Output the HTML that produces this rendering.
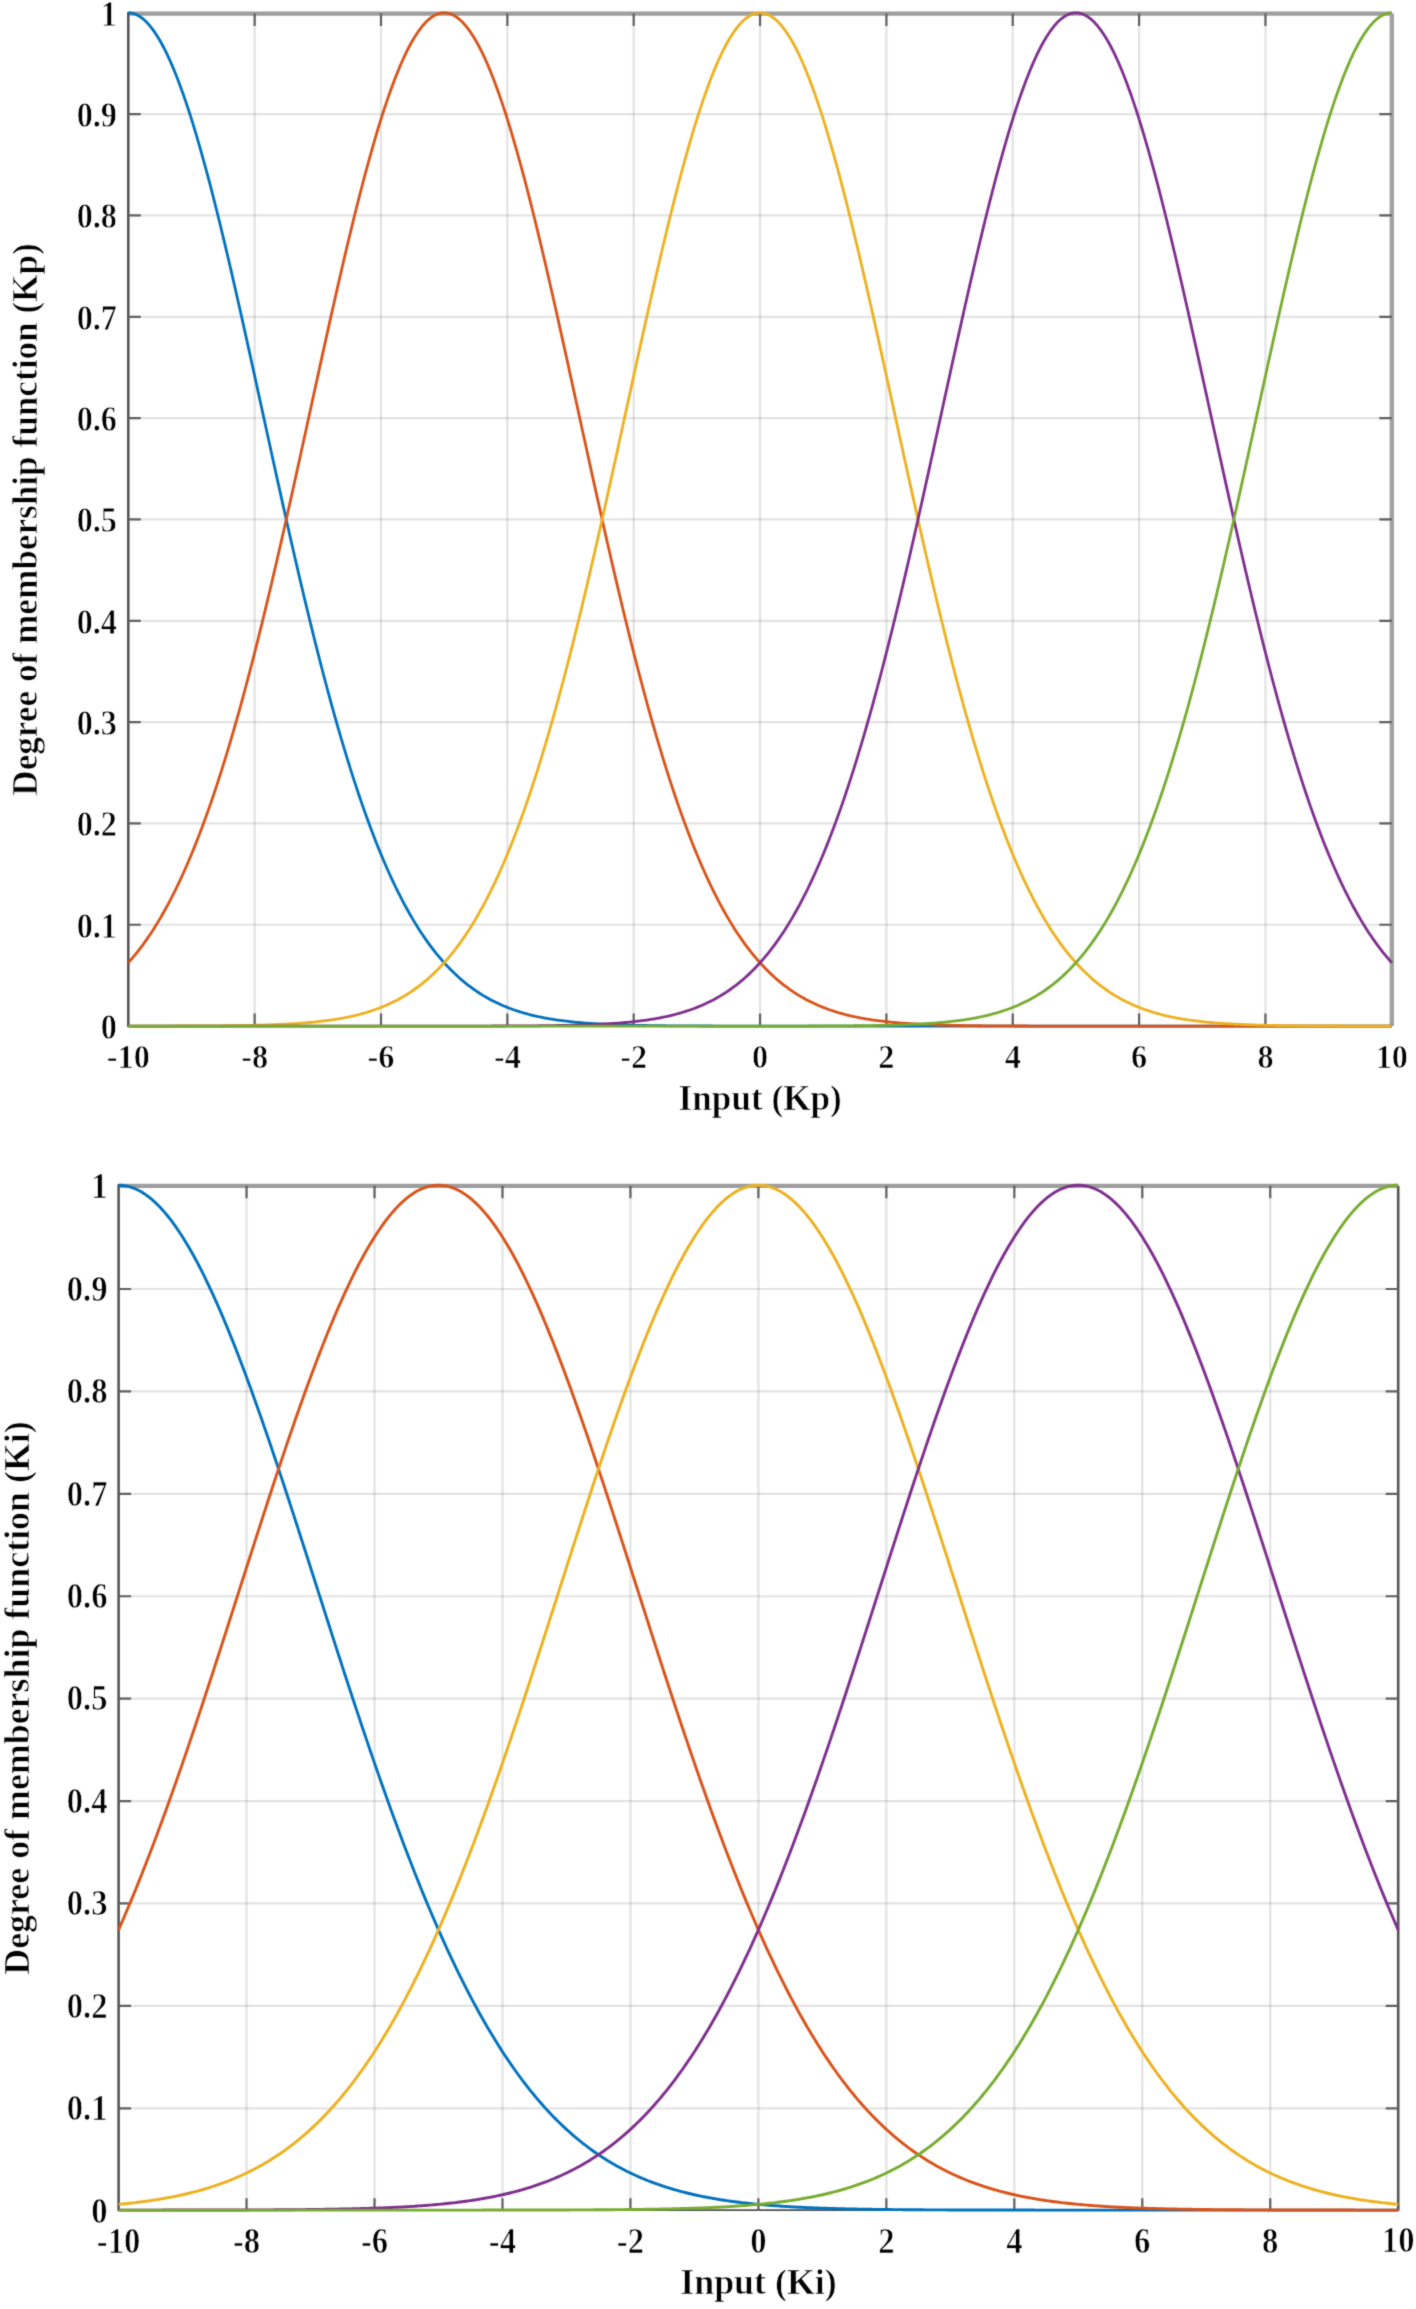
<!DOCTYPE html>
<html><head><meta charset="utf-8"><style>html,body{margin:0;padding:0;background:#fff;}svg{display:block}.t{stroke:#fff;stroke-width:0.7;paint-order:normal}</style></head>
<body><svg width="1416" height="2309" viewBox="0 0 1416 2309" font-family="'Liberation Serif', serif" font-weight="bold" fill="#000">
<defs><filter id="bl" x="0" y="0" width="1416" height="2309" filterUnits="userSpaceOnUse" color-interpolation-filters="sRGB"><feConvolveMatrix order="3" kernelMatrix="0.01917 0.10012 0.01917 0.10012 0.52283 0.10012 0.01917 0.10012 0.01917" divisor="1" edgeMode="duplicate"/></filter></defs>
<rect width="1416" height="2309" fill="#fff"/>
<g filter="url(#bl)"><rect width="1416" height="2309" fill="#fff"/>
<path d="M254.65 12.80V1026.10M381.00 12.80V1026.10M507.35 12.80V1026.10M633.70 12.80V1026.10M760.05 12.80V1026.10M886.40 12.80V1026.10M1012.75 12.80V1026.10M1139.10 12.80V1026.10M1265.45 12.80V1026.10" stroke="#000" stroke-opacity="0.11" stroke-width="2.2" fill="none"/>
<path d="M128.30 924.77H1391.80M128.30 823.44H1391.80M128.30 722.11H1391.80M128.30 620.78H1391.80M128.30 519.45H1391.80M128.30 418.12H1391.80M128.30 316.79H1391.80M128.30 215.46H1391.80M128.30 114.13H1391.80" stroke="#000" stroke-opacity="0.11" stroke-width="2.2" fill="none"/>
<path d="M128.30 13.60H1391.80" stroke="#9e9e9e" stroke-width="4.2" fill="none"/>
<path d="M1391.80 13.60V1026.10" stroke="#a2a2a2" stroke-width="4.4" fill="none"/>
<path d="M128.30 12.10V1027.10" stroke="#505050" stroke-width="2.5" fill="none"/>
<path d="M128.30 1026.10H1391.80" stroke="#505050" stroke-width="1.6" fill="none"/>
<path d="M254.65 1026.10v-12.5M254.65 13.60v12.5M381.00 1026.10v-12.5M381.00 13.60v12.5M507.35 1026.10v-12.5M507.35 13.60v12.5M633.70 1026.10v-12.5M633.70 13.60v12.5M760.05 1026.10v-12.5M760.05 13.60v12.5M886.40 1026.10v-12.5M886.40 13.60v12.5M1012.75 1026.10v-12.5M1012.75 13.60v12.5M1139.10 1026.10v-12.5M1139.10 13.60v12.5M1265.45 1026.10v-12.5M1265.45 13.60v12.5M128.30 924.77h12.5M1391.80 924.77h-12.5M128.30 823.44h12.5M1391.80 823.44h-12.5M128.30 722.11h12.5M1391.80 722.11h-12.5M128.30 620.78h12.5M1391.80 620.78h-12.5M128.30 519.45h12.5M1391.80 519.45h-12.5M128.30 418.12h12.5M1391.80 418.12h-12.5M128.30 316.79h12.5M1391.80 316.79h-12.5M128.30 215.46h12.5M1391.80 215.46h-12.5M128.30 114.13h12.5M1391.80 114.13h-12.5" stroke="#606060" stroke-width="2.2" fill="none"/>
<polyline points="128.30,12.80 130.41,12.92 132.51,13.30 134.62,13.92 136.72,14.80 138.83,15.92 140.93,17.29 143.04,18.90 145.15,20.76 147.25,22.86 149.36,25.21 151.46,27.80 153.57,30.62 155.68,33.68 157.78,36.98 159.89,40.51 161.99,44.27 164.10,48.25 166.20,52.46 168.31,56.89 170.42,61.54 172.52,66.40 174.63,71.47 176.73,76.75 178.84,82.23 180.95,87.91 183.05,93.79 185.16,99.86 187.26,106.11 189.37,112.55 191.48,119.17 193.58,125.96 195.69,132.92 197.79,140.05 199.90,147.33 202.00,154.77 204.11,162.36 206.22,170.10 208.32,177.97 210.43,185.98 212.53,194.12 214.64,202.39 216.75,210.77 218.85,219.26 220.96,227.87 223.06,236.57 225.17,245.38 227.27,254.27 229.38,263.26 231.49,272.32 233.59,281.46 235.70,290.67 237.80,299.94 239.91,309.28 242.02,318.67 244.12,328.11 246.23,337.59 248.33,347.11 250.44,356.66 252.54,366.25 254.65,375.85 256.76,385.48 258.86,395.11 260.97,404.76 263.07,414.41 265.18,424.05 267.29,433.69 269.39,443.32 271.50,452.94 273.60,462.53 275.71,472.10 277.81,481.65 279.92,491.16 282.03,500.63 284.13,510.06 286.24,519.45 288.34,528.79 290.45,538.08 292.55,547.31 294.66,556.49 296.77,565.60 298.87,574.64 300.98,583.62 303.08,592.53 305.19,601.36 307.30,610.11 309.40,618.78 311.51,627.38 313.61,635.88 315.72,644.30 317.83,652.63 319.93,660.87 322.04,669.01 324.14,677.06 326.25,685.01 328.35,692.86 330.46,700.62 332.57,708.26 334.67,715.81 336.78,723.25 338.88,730.59 340.99,737.82 343.10,744.94 345.20,751.95 347.31,758.86 349.41,765.65 351.52,772.34 353.62,778.91 355.73,785.37 357.84,791.73 359.94,797.97 362.05,804.10 364.15,810.11 366.26,816.02 368.37,821.81 370.47,827.50 372.58,833.07 374.68,838.54 376.79,843.89 378.89,849.13 381.00,854.27 383.11,859.30 385.21,864.22 387.32,869.03 389.42,873.74 391.53,878.34 393.64,882.84 395.74,887.24 397.85,891.54 399.95,895.73 402.06,899.83 404.16,903.82 406.27,907.72 408.38,911.53 410.48,915.23 412.59,918.85 414.69,922.37 416.80,925.80 418.90,929.14 421.01,932.40 423.12,935.57 425.22,938.65 427.33,941.64 429.43,944.56 431.54,947.39 433.65,950.15 435.75,952.82 437.86,955.42 439.96,957.94 442.07,960.39 444.18,962.77 446.28,965.07 448.39,967.31 450.49,969.48 452.60,971.58 454.70,973.62 456.81,975.59 458.92,977.50 461.02,979.35 463.13,981.14 465.23,982.88 467.34,984.55 469.45,986.17 471.55,987.74 473.66,989.26 475.76,990.72 477.87,992.13 479.97,993.50 482.08,994.82 484.19,996.09 486.29,997.32 488.40,998.50 490.50,999.65 492.61,1000.75 494.71,1001.81 496.82,1002.83 498.93,1003.81 501.03,1004.76 503.14,1005.68 505.24,1006.56 507.35,1007.40 509.46,1008.22 511.56,1009.00 513.67,1009.75 515.77,1010.47 517.88,1011.17 519.99,1011.83 522.09,1012.48 524.20,1013.09 526.30,1013.68 528.41,1014.25 530.51,1014.79 532.62,1015.31 534.73,1015.81 536.83,1016.29 538.94,1016.75 541.04,1017.19 543.15,1017.61 545.25,1018.02 547.36,1018.40 549.47,1018.77 551.57,1019.12 553.68,1019.46 555.78,1019.78 557.89,1020.09 560.00,1020.39 562.10,1020.67 564.21,1020.94 566.31,1021.20 568.42,1021.44 570.52,1021.68 572.63,1021.90 574.74,1022.11 576.84,1022.32 578.95,1022.51 581.05,1022.70 583.16,1022.87 585.27,1023.04 587.37,1023.20 589.48,1023.35 591.58,1023.50 593.69,1023.63 595.80,1023.77 597.90,1023.89 600.01,1024.01 602.11,1024.12 604.22,1024.23 606.32,1024.33 608.43,1024.43 610.54,1024.52 612.64,1024.60 614.75,1024.69 616.85,1024.77 618.96,1024.84 621.07,1024.91 623.17,1024.98 625.28,1025.04 627.38,1025.10 629.49,1025.16 631.59,1025.21 633.70,1025.26 635.81,1025.31 637.91,1025.36 640.02,1025.40 642.12,1025.44 644.23,1025.48 646.34,1025.52 648.44,1025.55 650.55,1025.58 652.65,1025.61 654.76,1025.64 656.86,1025.67 658.97,1025.70 661.08,1025.72 663.18,1025.74 665.29,1025.76 667.39,1025.78 669.50,1025.80 671.61,1025.82 673.71,1025.84 675.82,1025.86 677.92,1025.87 680.03,1025.89 682.13,1025.90 684.24,1025.91 686.35,1025.92 688.45,1025.93 690.56,1025.94 692.66,1025.95 694.77,1025.96 696.88,1025.97 698.98,1025.98 701.09,1025.99 703.19,1026.00 705.30,1026.00 707.40,1026.01 709.51,1026.02 711.62,1026.02 713.72,1026.03 715.83,1026.03 717.93,1026.04 720.04,1026.04 722.14,1026.04 724.25,1026.05 726.36,1026.05 728.46,1026.05 730.57,1026.06 732.67,1026.06 734.78,1026.06 736.89,1026.07 738.99,1026.07 741.10,1026.07 743.20,1026.07 745.31,1026.07 747.41,1026.08 749.52,1026.08 751.63,1026.08 753.73,1026.08 755.84,1026.08 757.94,1026.08 760.05,1026.08 762.16,1026.09 764.26,1026.09 766.37,1026.09 768.47,1026.09 770.58,1026.09 772.68,1026.09 774.79,1026.09 776.90,1026.09 779.00,1026.09 781.11,1026.09 783.21,1026.09 785.32,1026.09 787.43,1026.09 789.53,1026.09 791.64,1026.10 793.74,1026.10 795.85,1026.10 797.96,1026.10 800.06,1026.10 802.17,1026.10 804.27,1026.10 806.38,1026.10 808.48,1026.10 810.59,1026.10 812.70,1026.10 814.80,1026.10 816.91,1026.10 819.01,1026.10 821.12,1026.10 823.23,1026.10 825.33,1026.10 827.44,1026.10 829.54,1026.10 831.65,1026.10 833.75,1026.10 835.86,1026.10 837.97,1026.10 840.07,1026.10 842.18,1026.10 844.28,1026.10 846.39,1026.10 848.50,1026.10 850.60,1026.10 852.71,1026.10 854.81,1026.10 856.92,1026.10 859.02,1026.10 861.13,1026.10 863.24,1026.10 865.34,1026.10 867.45,1026.10 869.55,1026.10 871.66,1026.10 873.77,1026.10 875.87,1026.10 877.98,1026.10 880.08,1026.10 882.19,1026.10 884.29,1026.10 886.40,1026.10 888.51,1026.10 890.61,1026.10 892.72,1026.10 894.82,1026.10 896.93,1026.10 899.04,1026.10 901.14,1026.10 903.25,1026.10 905.35,1026.10 907.46,1026.10 909.56,1026.10 911.67,1026.10 913.78,1026.10 915.88,1026.10 917.99,1026.10 920.09,1026.10 922.20,1026.10 924.31,1026.10 926.41,1026.10 928.52,1026.10 930.62,1026.10 932.73,1026.10 934.83,1026.10 936.94,1026.10 939.05,1026.10 941.15,1026.10 943.26,1026.10 945.36,1026.10 947.47,1026.10 949.58,1026.10 951.68,1026.10 953.79,1026.10 955.89,1026.10 958.00,1026.10 960.10,1026.10 962.21,1026.10 964.32,1026.10 966.42,1026.10 968.53,1026.10 970.63,1026.10 972.74,1026.10 974.85,1026.10 976.95,1026.10 979.06,1026.10 981.16,1026.10 983.27,1026.10 985.37,1026.10 987.48,1026.10 989.59,1026.10 991.69,1026.10 993.80,1026.10 995.90,1026.10 998.01,1026.10 1000.12,1026.10 1002.22,1026.10 1004.33,1026.10 1006.43,1026.10 1008.54,1026.10 1010.64,1026.10 1012.75,1026.10 1014.86,1026.10 1016.96,1026.10 1019.07,1026.10 1021.17,1026.10 1023.28,1026.10 1025.38,1026.10 1027.49,1026.10 1029.60,1026.10 1031.70,1026.10 1033.81,1026.10 1035.91,1026.10 1038.02,1026.10 1040.13,1026.10 1042.23,1026.10 1044.34,1026.10 1046.44,1026.10 1048.55,1026.10 1050.65,1026.10 1052.76,1026.10 1054.87,1026.10 1056.97,1026.10 1059.08,1026.10 1061.18,1026.10 1063.29,1026.10 1065.40,1026.10 1067.50,1026.10 1069.61,1026.10 1071.71,1026.10 1073.82,1026.10 1075.92,1026.10 1078.03,1026.10 1080.14,1026.10 1082.24,1026.10 1084.35,1026.10 1086.45,1026.10 1088.56,1026.10 1090.67,1026.10 1092.77,1026.10 1094.88,1026.10 1096.98,1026.10 1099.09,1026.10 1101.19,1026.10 1103.30,1026.10 1105.41,1026.10 1107.51,1026.10 1109.62,1026.10 1111.72,1026.10 1113.83,1026.10 1115.94,1026.10 1118.04,1026.10 1120.15,1026.10 1122.25,1026.10 1124.36,1026.10 1126.47,1026.10 1128.57,1026.10 1130.68,1026.10 1132.78,1026.10 1134.89,1026.10 1136.99,1026.10 1139.10,1026.10 1141.21,1026.10 1143.31,1026.10 1145.42,1026.10 1147.52,1026.10 1149.63,1026.10 1151.73,1026.10 1153.84,1026.10 1155.95,1026.10 1158.05,1026.10 1160.16,1026.10 1162.26,1026.10 1164.37,1026.10 1166.48,1026.10 1168.58,1026.10 1170.69,1026.10 1172.79,1026.10 1174.90,1026.10 1177.01,1026.10 1179.11,1026.10 1181.22,1026.10 1183.32,1026.10 1185.43,1026.10 1187.53,1026.10 1189.64,1026.10 1191.75,1026.10 1193.85,1026.10 1195.96,1026.10 1198.06,1026.10 1200.17,1026.10 1202.27,1026.10 1204.38,1026.10 1206.49,1026.10 1208.59,1026.10 1210.70,1026.10 1212.80,1026.10 1214.91,1026.10 1217.02,1026.10 1219.12,1026.10 1221.23,1026.10 1223.33,1026.10 1225.44,1026.10 1227.54,1026.10 1229.65,1026.10 1231.76,1026.10 1233.86,1026.10 1235.97,1026.10 1238.07,1026.10 1240.18,1026.10 1242.29,1026.10 1244.39,1026.10 1246.50,1026.10 1248.60,1026.10 1250.71,1026.10 1252.82,1026.10 1254.92,1026.10 1257.03,1026.10 1259.13,1026.10 1261.24,1026.10 1263.34,1026.10 1265.45,1026.10 1267.56,1026.10 1269.66,1026.10 1271.77,1026.10 1273.87,1026.10 1275.98,1026.10 1278.08,1026.10 1280.19,1026.10 1282.30,1026.10 1284.40,1026.10 1286.51,1026.10 1288.61,1026.10 1290.72,1026.10 1292.83,1026.10 1294.93,1026.10 1297.04,1026.10 1299.14,1026.10 1301.25,1026.10 1303.36,1026.10 1305.46,1026.10 1307.57,1026.10 1309.67,1026.10 1311.78,1026.10 1313.88,1026.10 1315.99,1026.10 1318.10,1026.10 1320.20,1026.10 1322.31,1026.10 1324.41,1026.10 1326.52,1026.10 1328.62,1026.10 1330.73,1026.10 1332.84,1026.10 1334.94,1026.10 1337.05,1026.10 1339.15,1026.10 1341.26,1026.10 1343.37,1026.10 1345.47,1026.10 1347.58,1026.10 1349.68,1026.10 1351.79,1026.10 1353.89,1026.10 1356.00,1026.10 1358.11,1026.10 1360.21,1026.10 1362.32,1026.10 1364.42,1026.10 1366.53,1026.10 1368.64,1026.10 1370.74,1026.10 1372.85,1026.10 1374.95,1026.10 1377.06,1026.10 1379.16,1026.10 1381.27,1026.10 1383.38,1026.10 1385.48,1026.10 1387.59,1026.10 1389.69,1026.10 1391.80,1026.10" stroke="#0072BD" stroke-width="2.8" fill="none" stroke-linejoin="round"/>
<polyline points="128.30,962.77 130.41,960.39 132.51,957.94 134.62,955.42 136.72,952.82 138.83,950.15 140.93,947.39 143.04,944.56 145.15,941.64 147.25,938.65 149.36,935.57 151.46,932.40 153.57,929.14 155.68,925.80 157.78,922.37 159.89,918.85 161.99,915.23 164.10,911.53 166.20,907.72 168.31,903.82 170.42,899.83 172.52,895.73 174.63,891.54 176.73,887.24 178.84,882.84 180.95,878.34 183.05,873.74 185.16,869.03 187.26,864.22 189.37,859.30 191.48,854.27 193.58,849.13 195.69,843.89 197.79,838.54 199.90,833.07 202.00,827.50 204.11,821.81 206.22,816.02 208.32,810.11 210.43,804.10 212.53,797.97 214.64,791.73 216.75,785.37 218.85,778.91 220.96,772.34 223.06,765.65 225.17,758.86 227.27,751.95 229.38,744.94 231.49,737.82 233.59,730.59 235.70,723.25 237.80,715.81 239.91,708.26 242.02,700.62 244.12,692.86 246.23,685.01 248.33,677.06 250.44,669.01 252.54,660.87 254.65,652.63 256.76,644.30 258.86,635.88 260.97,627.38 263.07,618.78 265.18,610.11 267.29,601.36 269.39,592.53 271.50,583.62 273.60,574.64 275.71,565.60 277.81,556.49 279.92,547.31 282.03,538.08 284.13,528.79 286.24,519.45 288.34,510.06 290.45,500.63 292.55,491.16 294.66,481.65 296.77,472.10 298.87,462.53 300.98,452.94 303.08,443.32 305.19,433.69 307.30,424.05 309.40,414.41 311.51,404.76 313.61,395.11 315.72,385.48 317.83,375.85 319.93,366.25 322.04,356.66 324.14,347.11 326.25,337.59 328.35,328.11 330.46,318.67 332.57,309.28 334.67,299.94 336.78,290.67 338.88,281.46 340.99,272.32 343.10,263.26 345.20,254.27 347.31,245.38 349.41,236.57 351.52,227.87 353.62,219.26 355.73,210.77 357.84,202.39 359.94,194.12 362.05,185.98 364.15,177.97 366.26,170.10 368.37,162.36 370.47,154.77 372.58,147.33 374.68,140.05 376.79,132.92 378.89,125.96 381.00,119.17 383.11,112.55 385.21,106.11 387.32,99.86 389.42,93.79 391.53,87.91 393.64,82.23 395.74,76.75 397.85,71.47 399.95,66.40 402.06,61.54 404.16,56.89 406.27,52.46 408.38,48.25 410.48,44.27 412.59,40.51 414.69,36.98 416.80,33.68 418.90,30.62 421.01,27.80 423.12,25.21 425.22,22.86 427.33,20.76 429.43,18.90 431.54,17.29 433.65,15.92 435.75,14.80 437.86,13.92 439.96,13.30 442.07,12.92 444.18,12.80 446.28,12.92 448.39,13.30 450.49,13.92 452.60,14.80 454.70,15.92 456.81,17.29 458.92,18.90 461.02,20.76 463.13,22.86 465.23,25.21 467.34,27.80 469.45,30.62 471.55,33.68 473.66,36.98 475.76,40.51 477.87,44.27 479.97,48.25 482.08,52.46 484.19,56.89 486.29,61.54 488.40,66.40 490.50,71.47 492.61,76.75 494.71,82.23 496.82,87.91 498.93,93.79 501.03,99.86 503.14,106.11 505.24,112.55 507.35,119.17 509.46,125.96 511.56,132.92 513.67,140.05 515.77,147.33 517.88,154.77 519.99,162.36 522.09,170.10 524.20,177.97 526.30,185.98 528.41,194.12 530.51,202.39 532.62,210.77 534.73,219.26 536.83,227.87 538.94,236.57 541.04,245.38 543.15,254.27 545.25,263.26 547.36,272.32 549.47,281.46 551.57,290.67 553.68,299.94 555.78,309.28 557.89,318.67 560.00,328.11 562.10,337.59 564.21,347.11 566.31,356.66 568.42,366.25 570.52,375.85 572.63,385.48 574.74,395.11 576.84,404.76 578.95,414.41 581.05,424.05 583.16,433.69 585.27,443.32 587.37,452.94 589.48,462.53 591.58,472.10 593.69,481.65 595.80,491.16 597.90,500.63 600.01,510.06 602.11,519.45 604.22,528.79 606.32,538.08 608.43,547.31 610.54,556.49 612.64,565.60 614.75,574.64 616.85,583.62 618.96,592.53 621.07,601.36 623.17,610.11 625.28,618.78 627.38,627.38 629.49,635.88 631.59,644.30 633.70,652.63 635.81,660.87 637.91,669.01 640.02,677.06 642.12,685.01 644.23,692.86 646.34,700.62 648.44,708.26 650.55,715.81 652.65,723.25 654.76,730.59 656.86,737.82 658.97,744.94 661.08,751.95 663.18,758.86 665.29,765.65 667.39,772.34 669.50,778.91 671.61,785.37 673.71,791.73 675.82,797.97 677.92,804.10 680.03,810.11 682.13,816.02 684.24,821.81 686.35,827.50 688.45,833.07 690.56,838.54 692.66,843.89 694.77,849.13 696.88,854.27 698.98,859.30 701.09,864.22 703.19,869.03 705.30,873.74 707.40,878.34 709.51,882.84 711.62,887.24 713.72,891.54 715.83,895.73 717.93,899.83 720.04,903.82 722.14,907.72 724.25,911.53 726.36,915.23 728.46,918.85 730.57,922.37 732.67,925.80 734.78,929.14 736.89,932.40 738.99,935.57 741.10,938.65 743.20,941.64 745.31,944.56 747.41,947.39 749.52,950.15 751.63,952.82 753.73,955.42 755.84,957.94 757.94,960.39 760.05,962.77 762.16,965.07 764.26,967.31 766.37,969.48 768.47,971.58 770.58,973.62 772.68,975.59 774.79,977.50 776.90,979.35 779.00,981.14 781.11,982.88 783.21,984.55 785.32,986.17 787.43,987.74 789.53,989.26 791.64,990.72 793.74,992.13 795.85,993.50 797.96,994.82 800.06,996.09 802.17,997.32 804.27,998.50 806.38,999.65 808.48,1000.75 810.59,1001.81 812.70,1002.83 814.80,1003.81 816.91,1004.76 819.01,1005.68 821.12,1006.56 823.23,1007.40 825.33,1008.22 827.44,1009.00 829.54,1009.75 831.65,1010.47 833.75,1011.17 835.86,1011.83 837.97,1012.48 840.07,1013.09 842.18,1013.68 844.28,1014.25 846.39,1014.79 848.50,1015.31 850.60,1015.81 852.71,1016.29 854.81,1016.75 856.92,1017.19 859.02,1017.61 861.13,1018.02 863.24,1018.40 865.34,1018.77 867.45,1019.12 869.55,1019.46 871.66,1019.78 873.77,1020.09 875.87,1020.39 877.98,1020.67 880.08,1020.94 882.19,1021.20 884.29,1021.44 886.40,1021.68 888.51,1021.90 890.61,1022.11 892.72,1022.32 894.82,1022.51 896.93,1022.70 899.04,1022.87 901.14,1023.04 903.25,1023.20 905.35,1023.35 907.46,1023.50 909.56,1023.63 911.67,1023.77 913.78,1023.89 915.88,1024.01 917.99,1024.12 920.09,1024.23 922.20,1024.33 924.31,1024.43 926.41,1024.52 928.52,1024.60 930.62,1024.69 932.73,1024.77 934.83,1024.84 936.94,1024.91 939.05,1024.98 941.15,1025.04 943.26,1025.10 945.36,1025.16 947.47,1025.21 949.58,1025.26 951.68,1025.31 953.79,1025.36 955.89,1025.40 958.00,1025.44 960.10,1025.48 962.21,1025.52 964.32,1025.55 966.42,1025.58 968.53,1025.61 970.63,1025.64 972.74,1025.67 974.85,1025.70 976.95,1025.72 979.06,1025.74 981.16,1025.76 983.27,1025.78 985.37,1025.80 987.48,1025.82 989.59,1025.84 991.69,1025.86 993.80,1025.87 995.90,1025.89 998.01,1025.90 1000.12,1025.91 1002.22,1025.92 1004.33,1025.93 1006.43,1025.94 1008.54,1025.95 1010.64,1025.96 1012.75,1025.97 1014.86,1025.98 1016.96,1025.99 1019.07,1026.00 1021.17,1026.00 1023.28,1026.01 1025.38,1026.02 1027.49,1026.02 1029.60,1026.03 1031.70,1026.03 1033.81,1026.04 1035.91,1026.04 1038.02,1026.04 1040.13,1026.05 1042.23,1026.05 1044.34,1026.05 1046.44,1026.06 1048.55,1026.06 1050.65,1026.06 1052.76,1026.07 1054.87,1026.07 1056.97,1026.07 1059.08,1026.07 1061.18,1026.07 1063.29,1026.08 1065.40,1026.08 1067.50,1026.08 1069.61,1026.08 1071.71,1026.08 1073.82,1026.08 1075.92,1026.08 1078.03,1026.09 1080.14,1026.09 1082.24,1026.09 1084.35,1026.09 1086.45,1026.09 1088.56,1026.09 1090.67,1026.09 1092.77,1026.09 1094.88,1026.09 1096.98,1026.09 1099.09,1026.09 1101.19,1026.09 1103.30,1026.09 1105.41,1026.09 1107.51,1026.10 1109.62,1026.10 1111.72,1026.10 1113.83,1026.10 1115.94,1026.10 1118.04,1026.10 1120.15,1026.10 1122.25,1026.10 1124.36,1026.10 1126.47,1026.10 1128.57,1026.10 1130.68,1026.10 1132.78,1026.10 1134.89,1026.10 1136.99,1026.10 1139.10,1026.10 1141.21,1026.10 1143.31,1026.10 1145.42,1026.10 1147.52,1026.10 1149.63,1026.10 1151.73,1026.10 1153.84,1026.10 1155.95,1026.10 1158.05,1026.10 1160.16,1026.10 1162.26,1026.10 1164.37,1026.10 1166.48,1026.10 1168.58,1026.10 1170.69,1026.10 1172.79,1026.10 1174.90,1026.10 1177.01,1026.10 1179.11,1026.10 1181.22,1026.10 1183.32,1026.10 1185.43,1026.10 1187.53,1026.10 1189.64,1026.10 1191.75,1026.10 1193.85,1026.10 1195.96,1026.10 1198.06,1026.10 1200.17,1026.10 1202.27,1026.10 1204.38,1026.10 1206.49,1026.10 1208.59,1026.10 1210.70,1026.10 1212.80,1026.10 1214.91,1026.10 1217.02,1026.10 1219.12,1026.10 1221.23,1026.10 1223.33,1026.10 1225.44,1026.10 1227.54,1026.10 1229.65,1026.10 1231.76,1026.10 1233.86,1026.10 1235.97,1026.10 1238.07,1026.10 1240.18,1026.10 1242.29,1026.10 1244.39,1026.10 1246.50,1026.10 1248.60,1026.10 1250.71,1026.10 1252.82,1026.10 1254.92,1026.10 1257.03,1026.10 1259.13,1026.10 1261.24,1026.10 1263.34,1026.10 1265.45,1026.10 1267.56,1026.10 1269.66,1026.10 1271.77,1026.10 1273.87,1026.10 1275.98,1026.10 1278.08,1026.10 1280.19,1026.10 1282.30,1026.10 1284.40,1026.10 1286.51,1026.10 1288.61,1026.10 1290.72,1026.10 1292.83,1026.10 1294.93,1026.10 1297.04,1026.10 1299.14,1026.10 1301.25,1026.10 1303.36,1026.10 1305.46,1026.10 1307.57,1026.10 1309.67,1026.10 1311.78,1026.10 1313.88,1026.10 1315.99,1026.10 1318.10,1026.10 1320.20,1026.10 1322.31,1026.10 1324.41,1026.10 1326.52,1026.10 1328.62,1026.10 1330.73,1026.10 1332.84,1026.10 1334.94,1026.10 1337.05,1026.10 1339.15,1026.10 1341.26,1026.10 1343.37,1026.10 1345.47,1026.10 1347.58,1026.10 1349.68,1026.10 1351.79,1026.10 1353.89,1026.10 1356.00,1026.10 1358.11,1026.10 1360.21,1026.10 1362.32,1026.10 1364.42,1026.10 1366.53,1026.10 1368.64,1026.10 1370.74,1026.10 1372.85,1026.10 1374.95,1026.10 1377.06,1026.10 1379.16,1026.10 1381.27,1026.10 1383.38,1026.10 1385.48,1026.10 1387.59,1026.10 1389.69,1026.10 1391.80,1026.10" stroke="#D95319" stroke-width="2.8" fill="none" stroke-linejoin="round"/>
<polyline points="128.30,1026.08 130.41,1026.08 132.51,1026.08 134.62,1026.08 136.72,1026.08 138.83,1026.08 140.93,1026.08 143.04,1026.07 145.15,1026.07 147.25,1026.07 149.36,1026.07 151.46,1026.07 153.57,1026.06 155.68,1026.06 157.78,1026.06 159.89,1026.05 161.99,1026.05 164.10,1026.05 166.20,1026.04 168.31,1026.04 170.42,1026.04 172.52,1026.03 174.63,1026.03 176.73,1026.02 178.84,1026.02 180.95,1026.01 183.05,1026.00 185.16,1026.00 187.26,1025.99 189.37,1025.98 191.48,1025.97 193.58,1025.96 195.69,1025.95 197.79,1025.94 199.90,1025.93 202.00,1025.92 204.11,1025.91 206.22,1025.90 208.32,1025.89 210.43,1025.87 212.53,1025.86 214.64,1025.84 216.75,1025.82 218.85,1025.80 220.96,1025.78 223.06,1025.76 225.17,1025.74 227.27,1025.72 229.38,1025.70 231.49,1025.67 233.59,1025.64 235.70,1025.61 237.80,1025.58 239.91,1025.55 242.02,1025.52 244.12,1025.48 246.23,1025.44 248.33,1025.40 250.44,1025.36 252.54,1025.31 254.65,1025.26 256.76,1025.21 258.86,1025.16 260.97,1025.10 263.07,1025.04 265.18,1024.98 267.29,1024.91 269.39,1024.84 271.50,1024.77 273.60,1024.69 275.71,1024.60 277.81,1024.52 279.92,1024.43 282.03,1024.33 284.13,1024.23 286.24,1024.12 288.34,1024.01 290.45,1023.89 292.55,1023.77 294.66,1023.63 296.77,1023.50 298.87,1023.35 300.98,1023.20 303.08,1023.04 305.19,1022.87 307.30,1022.70 309.40,1022.51 311.51,1022.32 313.61,1022.11 315.72,1021.90 317.83,1021.68 319.93,1021.44 322.04,1021.20 324.14,1020.94 326.25,1020.67 328.35,1020.39 330.46,1020.09 332.57,1019.78 334.67,1019.46 336.78,1019.12 338.88,1018.77 340.99,1018.40 343.10,1018.02 345.20,1017.61 347.31,1017.19 349.41,1016.75 351.52,1016.29 353.62,1015.81 355.73,1015.31 357.84,1014.79 359.94,1014.25 362.05,1013.68 364.15,1013.09 366.26,1012.48 368.37,1011.83 370.47,1011.17 372.58,1010.47 374.68,1009.75 376.79,1009.00 378.89,1008.22 381.00,1007.40 383.11,1006.56 385.21,1005.68 387.32,1004.76 389.42,1003.81 391.53,1002.83 393.64,1001.81 395.74,1000.75 397.85,999.65 399.95,998.50 402.06,997.32 404.16,996.09 406.27,994.82 408.38,993.50 410.48,992.13 412.59,990.72 414.69,989.26 416.80,987.74 418.90,986.17 421.01,984.55 423.12,982.88 425.22,981.14 427.33,979.35 429.43,977.50 431.54,975.59 433.65,973.62 435.75,971.58 437.86,969.48 439.96,967.31 442.07,965.07 444.18,962.77 446.28,960.39 448.39,957.94 450.49,955.42 452.60,952.82 454.70,950.15 456.81,947.39 458.92,944.56 461.02,941.64 463.13,938.65 465.23,935.57 467.34,932.40 469.45,929.14 471.55,925.80 473.66,922.37 475.76,918.85 477.87,915.23 479.97,911.53 482.08,907.72 484.19,903.82 486.29,899.83 488.40,895.73 490.50,891.54 492.61,887.24 494.71,882.84 496.82,878.34 498.93,873.74 501.03,869.03 503.14,864.22 505.24,859.30 507.35,854.27 509.46,849.13 511.56,843.89 513.67,838.54 515.77,833.07 517.88,827.50 519.99,821.81 522.09,816.02 524.20,810.11 526.30,804.10 528.41,797.97 530.51,791.73 532.62,785.37 534.73,778.91 536.83,772.34 538.94,765.65 541.04,758.86 543.15,751.95 545.25,744.94 547.36,737.82 549.47,730.59 551.57,723.25 553.68,715.81 555.78,708.26 557.89,700.62 560.00,692.86 562.10,685.01 564.21,677.06 566.31,669.01 568.42,660.87 570.52,652.63 572.63,644.30 574.74,635.88 576.84,627.38 578.95,618.78 581.05,610.11 583.16,601.36 585.27,592.53 587.37,583.62 589.48,574.64 591.58,565.60 593.69,556.49 595.80,547.31 597.90,538.08 600.01,528.79 602.11,519.45 604.22,510.06 606.32,500.63 608.43,491.16 610.54,481.65 612.64,472.10 614.75,462.53 616.85,452.94 618.96,443.32 621.07,433.69 623.17,424.05 625.28,414.41 627.38,404.76 629.49,395.11 631.59,385.48 633.70,375.85 635.81,366.25 637.91,356.66 640.02,347.11 642.12,337.59 644.23,328.11 646.34,318.67 648.44,309.28 650.55,299.94 652.65,290.67 654.76,281.46 656.86,272.32 658.97,263.26 661.08,254.27 663.18,245.38 665.29,236.57 667.39,227.87 669.50,219.26 671.61,210.77 673.71,202.39 675.82,194.12 677.92,185.98 680.03,177.97 682.13,170.10 684.24,162.36 686.35,154.77 688.45,147.33 690.56,140.05 692.66,132.92 694.77,125.96 696.88,119.17 698.98,112.55 701.09,106.11 703.19,99.86 705.30,93.79 707.40,87.91 709.51,82.23 711.62,76.75 713.72,71.47 715.83,66.40 717.93,61.54 720.04,56.89 722.14,52.46 724.25,48.25 726.36,44.27 728.46,40.51 730.57,36.98 732.67,33.68 734.78,30.62 736.89,27.80 738.99,25.21 741.10,22.86 743.20,20.76 745.31,18.90 747.41,17.29 749.52,15.92 751.63,14.80 753.73,13.92 755.84,13.30 757.94,12.92 760.05,12.80 762.16,12.92 764.26,13.30 766.37,13.92 768.47,14.80 770.58,15.92 772.68,17.29 774.79,18.90 776.90,20.76 779.00,22.86 781.11,25.21 783.21,27.80 785.32,30.62 787.43,33.68 789.53,36.98 791.64,40.51 793.74,44.27 795.85,48.25 797.96,52.46 800.06,56.89 802.17,61.54 804.27,66.40 806.38,71.47 808.48,76.75 810.59,82.23 812.70,87.91 814.80,93.79 816.91,99.86 819.01,106.11 821.12,112.55 823.23,119.17 825.33,125.96 827.44,132.92 829.54,140.05 831.65,147.33 833.75,154.77 835.86,162.36 837.97,170.10 840.07,177.97 842.18,185.98 844.28,194.12 846.39,202.39 848.50,210.77 850.60,219.26 852.71,227.87 854.81,236.57 856.92,245.38 859.02,254.27 861.13,263.26 863.24,272.32 865.34,281.46 867.45,290.67 869.55,299.94 871.66,309.28 873.77,318.67 875.87,328.11 877.98,337.59 880.08,347.11 882.19,356.66 884.29,366.25 886.40,375.85 888.51,385.48 890.61,395.11 892.72,404.76 894.82,414.41 896.93,424.05 899.04,433.69 901.14,443.32 903.25,452.94 905.35,462.53 907.46,472.10 909.56,481.65 911.67,491.16 913.78,500.63 915.88,510.06 917.99,519.45 920.09,528.79 922.20,538.08 924.31,547.31 926.41,556.49 928.52,565.60 930.62,574.64 932.73,583.62 934.83,592.53 936.94,601.36 939.05,610.11 941.15,618.78 943.26,627.38 945.36,635.88 947.47,644.30 949.58,652.63 951.68,660.87 953.79,669.01 955.89,677.06 958.00,685.01 960.10,692.86 962.21,700.62 964.32,708.26 966.42,715.81 968.53,723.25 970.63,730.59 972.74,737.82 974.85,744.94 976.95,751.95 979.06,758.86 981.16,765.65 983.27,772.34 985.37,778.91 987.48,785.37 989.59,791.73 991.69,797.97 993.80,804.10 995.90,810.11 998.01,816.02 1000.12,821.81 1002.22,827.50 1004.33,833.07 1006.43,838.54 1008.54,843.89 1010.64,849.13 1012.75,854.27 1014.86,859.30 1016.96,864.22 1019.07,869.03 1021.17,873.74 1023.28,878.34 1025.38,882.84 1027.49,887.24 1029.60,891.54 1031.70,895.73 1033.81,899.83 1035.91,903.82 1038.02,907.72 1040.13,911.53 1042.23,915.23 1044.34,918.85 1046.44,922.37 1048.55,925.80 1050.65,929.14 1052.76,932.40 1054.87,935.57 1056.97,938.65 1059.08,941.64 1061.18,944.56 1063.29,947.39 1065.40,950.15 1067.50,952.82 1069.61,955.42 1071.71,957.94 1073.82,960.39 1075.92,962.77 1078.03,965.07 1080.14,967.31 1082.24,969.48 1084.35,971.58 1086.45,973.62 1088.56,975.59 1090.67,977.50 1092.77,979.35 1094.88,981.14 1096.98,982.88 1099.09,984.55 1101.19,986.17 1103.30,987.74 1105.41,989.26 1107.51,990.72 1109.62,992.13 1111.72,993.50 1113.83,994.82 1115.94,996.09 1118.04,997.32 1120.15,998.50 1122.25,999.65 1124.36,1000.75 1126.47,1001.81 1128.57,1002.83 1130.68,1003.81 1132.78,1004.76 1134.89,1005.68 1136.99,1006.56 1139.10,1007.40 1141.21,1008.22 1143.31,1009.00 1145.42,1009.75 1147.52,1010.47 1149.63,1011.17 1151.73,1011.83 1153.84,1012.48 1155.95,1013.09 1158.05,1013.68 1160.16,1014.25 1162.26,1014.79 1164.37,1015.31 1166.48,1015.81 1168.58,1016.29 1170.69,1016.75 1172.79,1017.19 1174.90,1017.61 1177.01,1018.02 1179.11,1018.40 1181.22,1018.77 1183.32,1019.12 1185.43,1019.46 1187.53,1019.78 1189.64,1020.09 1191.75,1020.39 1193.85,1020.67 1195.96,1020.94 1198.06,1021.20 1200.17,1021.44 1202.27,1021.68 1204.38,1021.90 1206.49,1022.11 1208.59,1022.32 1210.70,1022.51 1212.80,1022.70 1214.91,1022.87 1217.02,1023.04 1219.12,1023.20 1221.23,1023.35 1223.33,1023.50 1225.44,1023.63 1227.54,1023.77 1229.65,1023.89 1231.76,1024.01 1233.86,1024.12 1235.97,1024.23 1238.07,1024.33 1240.18,1024.43 1242.29,1024.52 1244.39,1024.60 1246.50,1024.69 1248.60,1024.77 1250.71,1024.84 1252.82,1024.91 1254.92,1024.98 1257.03,1025.04 1259.13,1025.10 1261.24,1025.16 1263.34,1025.21 1265.45,1025.26 1267.56,1025.31 1269.66,1025.36 1271.77,1025.40 1273.87,1025.44 1275.98,1025.48 1278.08,1025.52 1280.19,1025.55 1282.30,1025.58 1284.40,1025.61 1286.51,1025.64 1288.61,1025.67 1290.72,1025.70 1292.83,1025.72 1294.93,1025.74 1297.04,1025.76 1299.14,1025.78 1301.25,1025.80 1303.36,1025.82 1305.46,1025.84 1307.57,1025.86 1309.67,1025.87 1311.78,1025.89 1313.88,1025.90 1315.99,1025.91 1318.10,1025.92 1320.20,1025.93 1322.31,1025.94 1324.41,1025.95 1326.52,1025.96 1328.62,1025.97 1330.73,1025.98 1332.84,1025.99 1334.94,1026.00 1337.05,1026.00 1339.15,1026.01 1341.26,1026.02 1343.37,1026.02 1345.47,1026.03 1347.58,1026.03 1349.68,1026.04 1351.79,1026.04 1353.89,1026.04 1356.00,1026.05 1358.11,1026.05 1360.21,1026.05 1362.32,1026.06 1364.42,1026.06 1366.53,1026.06 1368.64,1026.07 1370.74,1026.07 1372.85,1026.07 1374.95,1026.07 1377.06,1026.07 1379.16,1026.08 1381.27,1026.08 1383.38,1026.08 1385.48,1026.08 1387.59,1026.08 1389.69,1026.08 1391.80,1026.08" stroke="#EDB120" stroke-width="2.8" fill="none" stroke-linejoin="round"/>
<polyline points="128.30,1026.10 130.41,1026.10 132.51,1026.10 134.62,1026.10 136.72,1026.10 138.83,1026.10 140.93,1026.10 143.04,1026.10 145.15,1026.10 147.25,1026.10 149.36,1026.10 151.46,1026.10 153.57,1026.10 155.68,1026.10 157.78,1026.10 159.89,1026.10 161.99,1026.10 164.10,1026.10 166.20,1026.10 168.31,1026.10 170.42,1026.10 172.52,1026.10 174.63,1026.10 176.73,1026.10 178.84,1026.10 180.95,1026.10 183.05,1026.10 185.16,1026.10 187.26,1026.10 189.37,1026.10 191.48,1026.10 193.58,1026.10 195.69,1026.10 197.79,1026.10 199.90,1026.10 202.00,1026.10 204.11,1026.10 206.22,1026.10 208.32,1026.10 210.43,1026.10 212.53,1026.10 214.64,1026.10 216.75,1026.10 218.85,1026.10 220.96,1026.10 223.06,1026.10 225.17,1026.10 227.27,1026.10 229.38,1026.10 231.49,1026.10 233.59,1026.10 235.70,1026.10 237.80,1026.10 239.91,1026.10 242.02,1026.10 244.12,1026.10 246.23,1026.10 248.33,1026.10 250.44,1026.10 252.54,1026.10 254.65,1026.10 256.76,1026.10 258.86,1026.10 260.97,1026.10 263.07,1026.10 265.18,1026.10 267.29,1026.10 269.39,1026.10 271.50,1026.10 273.60,1026.10 275.71,1026.10 277.81,1026.10 279.92,1026.10 282.03,1026.10 284.13,1026.10 286.24,1026.10 288.34,1026.10 290.45,1026.10 292.55,1026.10 294.66,1026.10 296.77,1026.10 298.87,1026.10 300.98,1026.10 303.08,1026.10 305.19,1026.10 307.30,1026.10 309.40,1026.10 311.51,1026.10 313.61,1026.10 315.72,1026.10 317.83,1026.10 319.93,1026.10 322.04,1026.10 324.14,1026.10 326.25,1026.10 328.35,1026.10 330.46,1026.10 332.57,1026.10 334.67,1026.10 336.78,1026.10 338.88,1026.10 340.99,1026.10 343.10,1026.10 345.20,1026.10 347.31,1026.10 349.41,1026.10 351.52,1026.10 353.62,1026.10 355.73,1026.10 357.84,1026.10 359.94,1026.10 362.05,1026.10 364.15,1026.10 366.26,1026.10 368.37,1026.10 370.47,1026.10 372.58,1026.10 374.68,1026.10 376.79,1026.10 378.89,1026.10 381.00,1026.10 383.11,1026.10 385.21,1026.10 387.32,1026.10 389.42,1026.10 391.53,1026.10 393.64,1026.10 395.74,1026.10 397.85,1026.10 399.95,1026.10 402.06,1026.10 404.16,1026.10 406.27,1026.10 408.38,1026.10 410.48,1026.10 412.59,1026.10 414.69,1026.09 416.80,1026.09 418.90,1026.09 421.01,1026.09 423.12,1026.09 425.22,1026.09 427.33,1026.09 429.43,1026.09 431.54,1026.09 433.65,1026.09 435.75,1026.09 437.86,1026.09 439.96,1026.09 442.07,1026.09 444.18,1026.08 446.28,1026.08 448.39,1026.08 450.49,1026.08 452.60,1026.08 454.70,1026.08 456.81,1026.08 458.92,1026.07 461.02,1026.07 463.13,1026.07 465.23,1026.07 467.34,1026.07 469.45,1026.06 471.55,1026.06 473.66,1026.06 475.76,1026.05 477.87,1026.05 479.97,1026.05 482.08,1026.04 484.19,1026.04 486.29,1026.04 488.40,1026.03 490.50,1026.03 492.61,1026.02 494.71,1026.02 496.82,1026.01 498.93,1026.00 501.03,1026.00 503.14,1025.99 505.24,1025.98 507.35,1025.97 509.46,1025.96 511.56,1025.95 513.67,1025.94 515.77,1025.93 517.88,1025.92 519.99,1025.91 522.09,1025.90 524.20,1025.89 526.30,1025.87 528.41,1025.86 530.51,1025.84 532.62,1025.82 534.73,1025.80 536.83,1025.78 538.94,1025.76 541.04,1025.74 543.15,1025.72 545.25,1025.70 547.36,1025.67 549.47,1025.64 551.57,1025.61 553.68,1025.58 555.78,1025.55 557.89,1025.52 560.00,1025.48 562.10,1025.44 564.21,1025.40 566.31,1025.36 568.42,1025.31 570.52,1025.26 572.63,1025.21 574.74,1025.16 576.84,1025.10 578.95,1025.04 581.05,1024.98 583.16,1024.91 585.27,1024.84 587.37,1024.77 589.48,1024.69 591.58,1024.60 593.69,1024.52 595.80,1024.43 597.90,1024.33 600.01,1024.23 602.11,1024.12 604.22,1024.01 606.32,1023.89 608.43,1023.77 610.54,1023.63 612.64,1023.50 614.75,1023.35 616.85,1023.20 618.96,1023.04 621.07,1022.87 623.17,1022.70 625.28,1022.51 627.38,1022.32 629.49,1022.11 631.59,1021.90 633.70,1021.68 635.81,1021.44 637.91,1021.20 640.02,1020.94 642.12,1020.67 644.23,1020.39 646.34,1020.09 648.44,1019.78 650.55,1019.46 652.65,1019.12 654.76,1018.77 656.86,1018.40 658.97,1018.02 661.08,1017.61 663.18,1017.19 665.29,1016.75 667.39,1016.29 669.50,1015.81 671.61,1015.31 673.71,1014.79 675.82,1014.25 677.92,1013.68 680.03,1013.09 682.13,1012.48 684.24,1011.83 686.35,1011.17 688.45,1010.47 690.56,1009.75 692.66,1009.00 694.77,1008.22 696.88,1007.40 698.98,1006.56 701.09,1005.68 703.19,1004.76 705.30,1003.81 707.40,1002.83 709.51,1001.81 711.62,1000.75 713.72,999.65 715.83,998.50 717.93,997.32 720.04,996.09 722.14,994.82 724.25,993.50 726.36,992.13 728.46,990.72 730.57,989.26 732.67,987.74 734.78,986.17 736.89,984.55 738.99,982.88 741.10,981.14 743.20,979.35 745.31,977.50 747.41,975.59 749.52,973.62 751.63,971.58 753.73,969.48 755.84,967.31 757.94,965.07 760.05,962.77 762.16,960.39 764.26,957.94 766.37,955.42 768.47,952.82 770.58,950.15 772.68,947.39 774.79,944.56 776.90,941.64 779.00,938.65 781.11,935.57 783.21,932.40 785.32,929.14 787.43,925.80 789.53,922.37 791.64,918.85 793.74,915.23 795.85,911.53 797.96,907.72 800.06,903.82 802.17,899.83 804.27,895.73 806.38,891.54 808.48,887.24 810.59,882.84 812.70,878.34 814.80,873.74 816.91,869.03 819.01,864.22 821.12,859.30 823.23,854.27 825.33,849.13 827.44,843.89 829.54,838.54 831.65,833.07 833.75,827.50 835.86,821.81 837.97,816.02 840.07,810.11 842.18,804.10 844.28,797.97 846.39,791.73 848.50,785.37 850.60,778.91 852.71,772.34 854.81,765.65 856.92,758.86 859.02,751.95 861.13,744.94 863.24,737.82 865.34,730.59 867.45,723.25 869.55,715.81 871.66,708.26 873.77,700.62 875.87,692.86 877.98,685.01 880.08,677.06 882.19,669.01 884.29,660.87 886.40,652.63 888.51,644.30 890.61,635.88 892.72,627.38 894.82,618.78 896.93,610.11 899.04,601.36 901.14,592.53 903.25,583.62 905.35,574.64 907.46,565.60 909.56,556.49 911.67,547.31 913.78,538.08 915.88,528.79 917.99,519.45 920.09,510.06 922.20,500.63 924.31,491.16 926.41,481.65 928.52,472.10 930.62,462.53 932.73,452.94 934.83,443.32 936.94,433.69 939.05,424.05 941.15,414.41 943.26,404.76 945.36,395.11 947.47,385.48 949.58,375.85 951.68,366.25 953.79,356.66 955.89,347.11 958.00,337.59 960.10,328.11 962.21,318.67 964.32,309.28 966.42,299.94 968.53,290.67 970.63,281.46 972.74,272.32 974.85,263.26 976.95,254.27 979.06,245.38 981.16,236.57 983.27,227.87 985.37,219.26 987.48,210.77 989.59,202.39 991.69,194.12 993.80,185.98 995.90,177.97 998.01,170.10 1000.12,162.36 1002.22,154.77 1004.33,147.33 1006.43,140.05 1008.54,132.92 1010.64,125.96 1012.75,119.17 1014.86,112.55 1016.96,106.11 1019.07,99.86 1021.17,93.79 1023.28,87.91 1025.38,82.23 1027.49,76.75 1029.60,71.47 1031.70,66.40 1033.81,61.54 1035.91,56.89 1038.02,52.46 1040.13,48.25 1042.23,44.27 1044.34,40.51 1046.44,36.98 1048.55,33.68 1050.65,30.62 1052.76,27.80 1054.87,25.21 1056.97,22.86 1059.08,20.76 1061.18,18.90 1063.29,17.29 1065.40,15.92 1067.50,14.80 1069.61,13.92 1071.71,13.30 1073.82,12.92 1075.92,12.80 1078.03,12.92 1080.14,13.30 1082.24,13.92 1084.35,14.80 1086.45,15.92 1088.56,17.29 1090.67,18.90 1092.77,20.76 1094.88,22.86 1096.98,25.21 1099.09,27.80 1101.19,30.62 1103.30,33.68 1105.41,36.98 1107.51,40.51 1109.62,44.27 1111.72,48.25 1113.83,52.46 1115.94,56.89 1118.04,61.54 1120.15,66.40 1122.25,71.47 1124.36,76.75 1126.47,82.23 1128.57,87.91 1130.68,93.79 1132.78,99.86 1134.89,106.11 1136.99,112.55 1139.10,119.17 1141.21,125.96 1143.31,132.92 1145.42,140.05 1147.52,147.33 1149.63,154.77 1151.73,162.36 1153.84,170.10 1155.95,177.97 1158.05,185.98 1160.16,194.12 1162.26,202.39 1164.37,210.77 1166.48,219.26 1168.58,227.87 1170.69,236.57 1172.79,245.38 1174.90,254.27 1177.01,263.26 1179.11,272.32 1181.22,281.46 1183.32,290.67 1185.43,299.94 1187.53,309.28 1189.64,318.67 1191.75,328.11 1193.85,337.59 1195.96,347.11 1198.06,356.66 1200.17,366.25 1202.27,375.85 1204.38,385.48 1206.49,395.11 1208.59,404.76 1210.70,414.41 1212.80,424.05 1214.91,433.69 1217.02,443.32 1219.12,452.94 1221.23,462.53 1223.33,472.10 1225.44,481.65 1227.54,491.16 1229.65,500.63 1231.76,510.06 1233.86,519.45 1235.97,528.79 1238.07,538.08 1240.18,547.31 1242.29,556.49 1244.39,565.60 1246.50,574.64 1248.60,583.62 1250.71,592.53 1252.82,601.36 1254.92,610.11 1257.03,618.78 1259.13,627.38 1261.24,635.88 1263.34,644.30 1265.45,652.63 1267.56,660.87 1269.66,669.01 1271.77,677.06 1273.87,685.01 1275.98,692.86 1278.08,700.62 1280.19,708.26 1282.30,715.81 1284.40,723.25 1286.51,730.59 1288.61,737.82 1290.72,744.94 1292.83,751.95 1294.93,758.86 1297.04,765.65 1299.14,772.34 1301.25,778.91 1303.36,785.37 1305.46,791.73 1307.57,797.97 1309.67,804.10 1311.78,810.11 1313.88,816.02 1315.99,821.81 1318.10,827.50 1320.20,833.07 1322.31,838.54 1324.41,843.89 1326.52,849.13 1328.62,854.27 1330.73,859.30 1332.84,864.22 1334.94,869.03 1337.05,873.74 1339.15,878.34 1341.26,882.84 1343.37,887.24 1345.47,891.54 1347.58,895.73 1349.68,899.83 1351.79,903.82 1353.89,907.72 1356.00,911.53 1358.11,915.23 1360.21,918.85 1362.32,922.37 1364.42,925.80 1366.53,929.14 1368.64,932.40 1370.74,935.57 1372.85,938.65 1374.95,941.64 1377.06,944.56 1379.16,947.39 1381.27,950.15 1383.38,952.82 1385.48,955.42 1387.59,957.94 1389.69,960.39 1391.80,962.77" stroke="#7E2F8E" stroke-width="2.8" fill="none" stroke-linejoin="round"/>
<polyline points="128.30,1026.10 130.41,1026.10 132.51,1026.10 134.62,1026.10 136.72,1026.10 138.83,1026.10 140.93,1026.10 143.04,1026.10 145.15,1026.10 147.25,1026.10 149.36,1026.10 151.46,1026.10 153.57,1026.10 155.68,1026.10 157.78,1026.10 159.89,1026.10 161.99,1026.10 164.10,1026.10 166.20,1026.10 168.31,1026.10 170.42,1026.10 172.52,1026.10 174.63,1026.10 176.73,1026.10 178.84,1026.10 180.95,1026.10 183.05,1026.10 185.16,1026.10 187.26,1026.10 189.37,1026.10 191.48,1026.10 193.58,1026.10 195.69,1026.10 197.79,1026.10 199.90,1026.10 202.00,1026.10 204.11,1026.10 206.22,1026.10 208.32,1026.10 210.43,1026.10 212.53,1026.10 214.64,1026.10 216.75,1026.10 218.85,1026.10 220.96,1026.10 223.06,1026.10 225.17,1026.10 227.27,1026.10 229.38,1026.10 231.49,1026.10 233.59,1026.10 235.70,1026.10 237.80,1026.10 239.91,1026.10 242.02,1026.10 244.12,1026.10 246.23,1026.10 248.33,1026.10 250.44,1026.10 252.54,1026.10 254.65,1026.10 256.76,1026.10 258.86,1026.10 260.97,1026.10 263.07,1026.10 265.18,1026.10 267.29,1026.10 269.39,1026.10 271.50,1026.10 273.60,1026.10 275.71,1026.10 277.81,1026.10 279.92,1026.10 282.03,1026.10 284.13,1026.10 286.24,1026.10 288.34,1026.10 290.45,1026.10 292.55,1026.10 294.66,1026.10 296.77,1026.10 298.87,1026.10 300.98,1026.10 303.08,1026.10 305.19,1026.10 307.30,1026.10 309.40,1026.10 311.51,1026.10 313.61,1026.10 315.72,1026.10 317.83,1026.10 319.93,1026.10 322.04,1026.10 324.14,1026.10 326.25,1026.10 328.35,1026.10 330.46,1026.10 332.57,1026.10 334.67,1026.10 336.78,1026.10 338.88,1026.10 340.99,1026.10 343.10,1026.10 345.20,1026.10 347.31,1026.10 349.41,1026.10 351.52,1026.10 353.62,1026.10 355.73,1026.10 357.84,1026.10 359.94,1026.10 362.05,1026.10 364.15,1026.10 366.26,1026.10 368.37,1026.10 370.47,1026.10 372.58,1026.10 374.68,1026.10 376.79,1026.10 378.89,1026.10 381.00,1026.10 383.11,1026.10 385.21,1026.10 387.32,1026.10 389.42,1026.10 391.53,1026.10 393.64,1026.10 395.74,1026.10 397.85,1026.10 399.95,1026.10 402.06,1026.10 404.16,1026.10 406.27,1026.10 408.38,1026.10 410.48,1026.10 412.59,1026.10 414.69,1026.10 416.80,1026.10 418.90,1026.10 421.01,1026.10 423.12,1026.10 425.22,1026.10 427.33,1026.10 429.43,1026.10 431.54,1026.10 433.65,1026.10 435.75,1026.10 437.86,1026.10 439.96,1026.10 442.07,1026.10 444.18,1026.10 446.28,1026.10 448.39,1026.10 450.49,1026.10 452.60,1026.10 454.70,1026.10 456.81,1026.10 458.92,1026.10 461.02,1026.10 463.13,1026.10 465.23,1026.10 467.34,1026.10 469.45,1026.10 471.55,1026.10 473.66,1026.10 475.76,1026.10 477.87,1026.10 479.97,1026.10 482.08,1026.10 484.19,1026.10 486.29,1026.10 488.40,1026.10 490.50,1026.10 492.61,1026.10 494.71,1026.10 496.82,1026.10 498.93,1026.10 501.03,1026.10 503.14,1026.10 505.24,1026.10 507.35,1026.10 509.46,1026.10 511.56,1026.10 513.67,1026.10 515.77,1026.10 517.88,1026.10 519.99,1026.10 522.09,1026.10 524.20,1026.10 526.30,1026.10 528.41,1026.10 530.51,1026.10 532.62,1026.10 534.73,1026.10 536.83,1026.10 538.94,1026.10 541.04,1026.10 543.15,1026.10 545.25,1026.10 547.36,1026.10 549.47,1026.10 551.57,1026.10 553.68,1026.10 555.78,1026.10 557.89,1026.10 560.00,1026.10 562.10,1026.10 564.21,1026.10 566.31,1026.10 568.42,1026.10 570.52,1026.10 572.63,1026.10 574.74,1026.10 576.84,1026.10 578.95,1026.10 581.05,1026.10 583.16,1026.10 585.27,1026.10 587.37,1026.10 589.48,1026.10 591.58,1026.10 593.69,1026.10 595.80,1026.10 597.90,1026.10 600.01,1026.10 602.11,1026.10 604.22,1026.10 606.32,1026.10 608.43,1026.10 610.54,1026.10 612.64,1026.10 614.75,1026.10 616.85,1026.10 618.96,1026.10 621.07,1026.10 623.17,1026.10 625.28,1026.10 627.38,1026.10 629.49,1026.10 631.59,1026.10 633.70,1026.10 635.81,1026.10 637.91,1026.10 640.02,1026.10 642.12,1026.10 644.23,1026.10 646.34,1026.10 648.44,1026.10 650.55,1026.10 652.65,1026.10 654.76,1026.10 656.86,1026.10 658.97,1026.10 661.08,1026.10 663.18,1026.10 665.29,1026.10 667.39,1026.10 669.50,1026.10 671.61,1026.10 673.71,1026.10 675.82,1026.10 677.92,1026.10 680.03,1026.10 682.13,1026.10 684.24,1026.10 686.35,1026.10 688.45,1026.10 690.56,1026.10 692.66,1026.10 694.77,1026.10 696.88,1026.10 698.98,1026.10 701.09,1026.10 703.19,1026.10 705.30,1026.10 707.40,1026.10 709.51,1026.10 711.62,1026.10 713.72,1026.10 715.83,1026.10 717.93,1026.10 720.04,1026.10 722.14,1026.10 724.25,1026.10 726.36,1026.10 728.46,1026.10 730.57,1026.09 732.67,1026.09 734.78,1026.09 736.89,1026.09 738.99,1026.09 741.10,1026.09 743.20,1026.09 745.31,1026.09 747.41,1026.09 749.52,1026.09 751.63,1026.09 753.73,1026.09 755.84,1026.09 757.94,1026.09 760.05,1026.08 762.16,1026.08 764.26,1026.08 766.37,1026.08 768.47,1026.08 770.58,1026.08 772.68,1026.08 774.79,1026.07 776.90,1026.07 779.00,1026.07 781.11,1026.07 783.21,1026.07 785.32,1026.06 787.43,1026.06 789.53,1026.06 791.64,1026.05 793.74,1026.05 795.85,1026.05 797.96,1026.04 800.06,1026.04 802.17,1026.04 804.27,1026.03 806.38,1026.03 808.48,1026.02 810.59,1026.02 812.70,1026.01 814.80,1026.00 816.91,1026.00 819.01,1025.99 821.12,1025.98 823.23,1025.97 825.33,1025.96 827.44,1025.95 829.54,1025.94 831.65,1025.93 833.75,1025.92 835.86,1025.91 837.97,1025.90 840.07,1025.89 842.18,1025.87 844.28,1025.86 846.39,1025.84 848.50,1025.82 850.60,1025.80 852.71,1025.78 854.81,1025.76 856.92,1025.74 859.02,1025.72 861.13,1025.70 863.24,1025.67 865.34,1025.64 867.45,1025.61 869.55,1025.58 871.66,1025.55 873.77,1025.52 875.87,1025.48 877.98,1025.44 880.08,1025.40 882.19,1025.36 884.29,1025.31 886.40,1025.26 888.51,1025.21 890.61,1025.16 892.72,1025.10 894.82,1025.04 896.93,1024.98 899.04,1024.91 901.14,1024.84 903.25,1024.77 905.35,1024.69 907.46,1024.60 909.56,1024.52 911.67,1024.43 913.78,1024.33 915.88,1024.23 917.99,1024.12 920.09,1024.01 922.20,1023.89 924.31,1023.77 926.41,1023.63 928.52,1023.50 930.62,1023.35 932.73,1023.20 934.83,1023.04 936.94,1022.87 939.05,1022.70 941.15,1022.51 943.26,1022.32 945.36,1022.11 947.47,1021.90 949.58,1021.68 951.68,1021.44 953.79,1021.20 955.89,1020.94 958.00,1020.67 960.10,1020.39 962.21,1020.09 964.32,1019.78 966.42,1019.46 968.53,1019.12 970.63,1018.77 972.74,1018.40 974.85,1018.02 976.95,1017.61 979.06,1017.19 981.16,1016.75 983.27,1016.29 985.37,1015.81 987.48,1015.31 989.59,1014.79 991.69,1014.25 993.80,1013.68 995.90,1013.09 998.01,1012.48 1000.12,1011.83 1002.22,1011.17 1004.33,1010.47 1006.43,1009.75 1008.54,1009.00 1010.64,1008.22 1012.75,1007.40 1014.86,1006.56 1016.96,1005.68 1019.07,1004.76 1021.17,1003.81 1023.28,1002.83 1025.38,1001.81 1027.49,1000.75 1029.60,999.65 1031.70,998.50 1033.81,997.32 1035.91,996.09 1038.02,994.82 1040.13,993.50 1042.23,992.13 1044.34,990.72 1046.44,989.26 1048.55,987.74 1050.65,986.17 1052.76,984.55 1054.87,982.88 1056.97,981.14 1059.08,979.35 1061.18,977.50 1063.29,975.59 1065.40,973.62 1067.50,971.58 1069.61,969.48 1071.71,967.31 1073.82,965.07 1075.92,962.77 1078.03,960.39 1080.14,957.94 1082.24,955.42 1084.35,952.82 1086.45,950.15 1088.56,947.39 1090.67,944.56 1092.77,941.64 1094.88,938.65 1096.98,935.57 1099.09,932.40 1101.19,929.14 1103.30,925.80 1105.41,922.37 1107.51,918.85 1109.62,915.23 1111.72,911.53 1113.83,907.72 1115.94,903.82 1118.04,899.83 1120.15,895.73 1122.25,891.54 1124.36,887.24 1126.47,882.84 1128.57,878.34 1130.68,873.74 1132.78,869.03 1134.89,864.22 1136.99,859.30 1139.10,854.27 1141.21,849.13 1143.31,843.89 1145.42,838.54 1147.52,833.07 1149.63,827.50 1151.73,821.81 1153.84,816.02 1155.95,810.11 1158.05,804.10 1160.16,797.97 1162.26,791.73 1164.37,785.37 1166.48,778.91 1168.58,772.34 1170.69,765.65 1172.79,758.86 1174.90,751.95 1177.01,744.94 1179.11,737.82 1181.22,730.59 1183.32,723.25 1185.43,715.81 1187.53,708.26 1189.64,700.62 1191.75,692.86 1193.85,685.01 1195.96,677.06 1198.06,669.01 1200.17,660.87 1202.27,652.63 1204.38,644.30 1206.49,635.88 1208.59,627.38 1210.70,618.78 1212.80,610.11 1214.91,601.36 1217.02,592.53 1219.12,583.62 1221.23,574.64 1223.33,565.60 1225.44,556.49 1227.54,547.31 1229.65,538.08 1231.76,528.79 1233.86,519.45 1235.97,510.06 1238.07,500.63 1240.18,491.16 1242.29,481.65 1244.39,472.10 1246.50,462.53 1248.60,452.94 1250.71,443.32 1252.82,433.69 1254.92,424.05 1257.03,414.41 1259.13,404.76 1261.24,395.11 1263.34,385.48 1265.45,375.85 1267.56,366.25 1269.66,356.66 1271.77,347.11 1273.87,337.59 1275.98,328.11 1278.08,318.67 1280.19,309.28 1282.30,299.94 1284.40,290.67 1286.51,281.46 1288.61,272.32 1290.72,263.26 1292.83,254.27 1294.93,245.38 1297.04,236.57 1299.14,227.87 1301.25,219.26 1303.36,210.77 1305.46,202.39 1307.57,194.12 1309.67,185.98 1311.78,177.97 1313.88,170.10 1315.99,162.36 1318.10,154.77 1320.20,147.33 1322.31,140.05 1324.41,132.92 1326.52,125.96 1328.62,119.17 1330.73,112.55 1332.84,106.11 1334.94,99.86 1337.05,93.79 1339.15,87.91 1341.26,82.23 1343.37,76.75 1345.47,71.47 1347.58,66.40 1349.68,61.54 1351.79,56.89 1353.89,52.46 1356.00,48.25 1358.11,44.27 1360.21,40.51 1362.32,36.98 1364.42,33.68 1366.53,30.62 1368.64,27.80 1370.74,25.21 1372.85,22.86 1374.95,20.76 1377.06,18.90 1379.16,17.29 1381.27,15.92 1383.38,14.80 1385.48,13.92 1387.59,13.30 1389.69,12.92 1391.80,12.80" stroke="#77AC30" stroke-width="2.8" fill="none" stroke-linejoin="round"/>
<g font-size="32.3" class="t"><text transform="translate(128.30 1067.8) scale(1 1.06)" text-anchor="middle">-10</text><text transform="translate(254.65 1067.8) scale(1 1.06)" text-anchor="middle">-8</text><text transform="translate(381.00 1067.8) scale(1 1.06)" text-anchor="middle">-6</text><text transform="translate(507.35 1067.8) scale(1 1.06)" text-anchor="middle">-4</text><text transform="translate(633.70 1067.8) scale(1 1.06)" text-anchor="middle">-2</text><text transform="translate(760.05 1067.8) scale(1 1.06)" text-anchor="middle">0</text><text transform="translate(886.40 1067.8) scale(1 1.06)" text-anchor="middle">2</text><text transform="translate(1012.75 1067.8) scale(1 1.06)" text-anchor="middle">4</text><text transform="translate(1139.10 1067.8) scale(1 1.06)" text-anchor="middle">6</text><text transform="translate(1265.45 1067.8) scale(1 1.06)" text-anchor="middle">8</text><text transform="translate(1391.80 1067.8) scale(1 1.06)" text-anchor="middle">10</text><text transform="translate(117.0 1039.11) scale(1 1.1)" text-anchor="end">0</text><text transform="translate(117.0 937.78) scale(1 1.1)" text-anchor="end">0.1</text><text transform="translate(117.0 836.45) scale(1 1.1)" text-anchor="end">0.2</text><text transform="translate(117.0 735.12) scale(1 1.1)" text-anchor="end">0.3</text><text transform="translate(117.0 633.79) scale(1 1.1)" text-anchor="end">0.4</text><text transform="translate(117.0 532.46) scale(1 1.1)" text-anchor="end">0.5</text><text transform="translate(117.0 431.13) scale(1 1.1)" text-anchor="end">0.6</text><text transform="translate(117.0 329.80) scale(1 1.1)" text-anchor="end">0.7</text><text transform="translate(117.0 228.47) scale(1 1.1)" text-anchor="end">0.8</text><text transform="translate(117.0 127.14) scale(1 1.1)" text-anchor="end">0.9</text><text transform="translate(117.0 25.81) scale(1 1.1)" text-anchor="end">1</text></g>
<text class="t" x="760.20" y="1110" text-anchor="middle" font-size="35.2">Input (Kp)</text>
<text class="t" transform="translate(37.2 519.50) rotate(-90)" x="0" y="0" text-anchor="middle" font-size="35.2">Degree of membership function (Kp)</text>
<path d="M246.56 1186.60V2210.70M374.52 1186.60V2210.70M502.48 1186.60V2210.70M630.44 1186.60V2210.70M758.40 1186.60V2210.70M886.36 1186.60V2210.70M1014.32 1186.60V2210.70M1142.28 1186.60V2210.70M1270.24 1186.60V2210.70" stroke="#000" stroke-opacity="0.11" stroke-width="2.2" fill="none"/>
<path d="M118.60 2108.29H1398.20M118.60 2005.88H1398.20M118.60 1903.47H1398.20M118.60 1801.06H1398.20M118.60 1698.65H1398.20M118.60 1596.24H1398.20M118.60 1493.83H1398.20M118.60 1391.42H1398.20M118.60 1289.01H1398.20" stroke="#000" stroke-opacity="0.11" stroke-width="2.2" fill="none"/>
<path d="M118.60 1185.80H1398.20" stroke="#9e9e9e" stroke-width="4.2" fill="none"/>
<path d="M1398.20 1185.80V2210.70" stroke="#555555" stroke-width="2.6" fill="none"/>
<path d="M118.60 1184.30V2211.10" stroke="#505050" stroke-width="2.5" fill="none"/>
<path d="M118.60 2210.10H1398.20" stroke="#505050" stroke-width="1.6" fill="none"/>
<path d="M246.56 2210.70v-12.5M246.56 1185.80v12.5M374.52 2210.70v-12.5M374.52 1185.80v12.5M502.48 2210.70v-12.5M502.48 1185.80v12.5M630.44 2210.70v-12.5M630.44 1185.80v12.5M758.40 2210.70v-12.5M758.40 1185.80v12.5M886.36 2210.70v-12.5M886.36 1185.80v12.5M1014.32 2210.70v-12.5M1014.32 1185.80v12.5M1142.28 2210.70v-12.5M1142.28 1185.80v12.5M1270.24 2210.70v-12.5M1270.24 1185.80v12.5M118.60 2108.29h12.5M1398.20 2108.29h-12.5M118.60 2005.88h12.5M1398.20 2005.88h-12.5M118.60 1903.47h12.5M1398.20 1903.47h-12.5M118.60 1801.06h12.5M1398.20 1801.06h-12.5M118.60 1698.65h12.5M1398.20 1698.65h-12.5M118.60 1596.24h12.5M1398.20 1596.24h-12.5M118.60 1493.83h12.5M1398.20 1493.83h-12.5M118.60 1391.42h12.5M1398.20 1391.42h-12.5M118.60 1289.01h12.5M1398.20 1289.01h-12.5" stroke="#606060" stroke-width="2.2" fill="none"/>
<polyline points="118.60,1185.20 120.73,1185.26 122.87,1185.44 125.00,1185.73 127.13,1186.14 129.26,1186.68 131.40,1187.32 133.53,1188.09 135.66,1188.97 137.79,1189.97 139.93,1191.09 142.06,1192.32 144.19,1193.67 146.32,1195.13 148.46,1196.71 150.59,1198.40 152.72,1200.21 154.86,1202.13 156.99,1204.16 159.12,1206.30 161.25,1208.55 163.39,1210.92 165.52,1213.39 167.65,1215.97 169.78,1218.66 171.92,1221.46 174.05,1224.36 176.18,1227.36 178.31,1230.47 180.45,1233.68 182.58,1237.00 184.71,1240.41 186.85,1243.93 188.98,1247.54 191.11,1251.25 193.24,1255.05 195.38,1258.95 197.51,1262.94 199.64,1267.03 201.77,1271.20 203.91,1275.47 206.04,1279.82 208.17,1284.26 210.30,1288.78 212.44,1293.39 214.57,1298.08 216.70,1302.85 218.84,1307.70 220.97,1312.63 223.10,1317.63 225.23,1322.71 227.37,1327.85 229.50,1333.08 231.63,1338.37 233.76,1343.72 235.90,1349.15 238.03,1354.64 240.16,1360.19 242.29,1365.80 244.43,1371.48 246.56,1377.21 248.69,1383.00 250.83,1388.84 252.96,1394.73 255.09,1400.68 257.22,1406.67 259.36,1412.71 261.49,1418.80 263.62,1424.93 265.75,1431.11 267.89,1437.32 270.02,1443.58 272.15,1449.87 274.28,1456.19 276.42,1462.55 278.55,1468.94 280.68,1475.36 282.82,1481.81 284.95,1488.29 287.08,1494.79 289.21,1501.31 291.35,1507.86 293.48,1514.42 295.61,1521.01 297.74,1527.61 299.88,1534.22 302.01,1540.85 304.14,1547.49 306.27,1554.13 308.41,1560.79 310.54,1567.45 312.67,1574.12 314.81,1580.79 316.94,1587.47 319.07,1594.14 321.20,1600.81 323.34,1607.48 325.47,1614.15 327.60,1620.80 329.73,1627.46 331.87,1634.10 334.00,1640.73 336.13,1647.35 338.26,1653.96 340.40,1660.56 342.53,1667.14 344.66,1673.70 346.80,1680.24 348.93,1686.76 351.06,1693.27 353.19,1699.75 355.33,1706.21 357.46,1712.64 359.59,1719.05 361.72,1725.43 363.86,1731.78 365.99,1738.11 368.12,1744.40 370.25,1750.67 372.39,1756.90 374.52,1763.10 376.65,1769.26 378.79,1775.39 380.92,1781.49 383.05,1787.54 385.18,1793.56 387.32,1799.55 389.45,1805.49 391.58,1811.39 393.71,1817.25 395.85,1823.07 397.98,1828.85 400.11,1834.58 402.24,1840.27 404.38,1845.92 406.51,1851.52 408.64,1857.08 410.78,1862.59 412.91,1868.05 415.04,1873.47 417.17,1878.84 419.31,1884.16 421.44,1889.43 423.57,1894.65 425.70,1899.83 427.84,1904.95 429.97,1910.02 432.10,1915.05 434.23,1920.02 436.37,1924.94 438.50,1929.81 440.63,1934.63 442.77,1939.40 444.90,1944.12 447.03,1948.78 449.16,1953.39 451.30,1957.95 453.43,1962.46 455.56,1966.92 457.69,1971.32 459.83,1975.67 461.96,1979.96 464.09,1984.21 466.22,1988.40 468.36,1992.54 470.49,1996.62 472.62,2000.66 474.76,2004.64 476.89,2008.56 479.02,2012.44 481.15,2016.26 483.29,2020.04 485.42,2023.76 487.55,2027.42 489.68,2031.04 491.82,2034.60 493.95,2038.12 496.08,2041.58 498.21,2044.99 500.35,2048.36 502.48,2051.67 504.61,2054.93 506.75,2058.14 508.88,2061.30 511.01,2064.42 513.14,2067.48 515.28,2070.50 517.41,2073.47 519.54,2076.39 521.67,2079.26 523.81,2082.09 525.94,2084.87 528.07,2087.60 530.20,2090.29 532.34,2092.93 534.47,2095.53 536.60,2098.08 538.74,2100.59 540.87,2103.05 543.00,2105.48 545.13,2107.85 547.27,2110.19 549.40,2112.48 551.53,2114.73 553.66,2116.94 555.80,2119.11 557.93,2121.24 560.06,2123.33 562.19,2125.38 564.33,2127.40 566.46,2129.37 568.59,2131.30 570.73,2133.20 572.86,2135.06 574.99,2136.89 577.12,2138.67 579.26,2140.43 581.39,2142.14 583.52,2143.82 585.65,2145.47 587.79,2147.09 589.92,2148.67 592.05,2150.22 594.18,2151.73 596.32,2153.22 598.45,2154.67 600.58,2156.09 602.72,2157.48 604.85,2158.84 606.98,2160.18 609.11,2161.48 611.25,2162.75 613.38,2164.00 615.51,2165.22 617.64,2166.41 619.78,2167.58 621.91,2168.72 624.04,2169.83 626.17,2170.92 628.31,2171.98 630.44,2173.02 632.57,2174.03 634.71,2175.02 636.84,2175.99 638.97,2176.93 641.10,2177.85 643.24,2178.75 645.37,2179.63 647.50,2180.49 649.63,2181.32 651.77,2182.14 653.90,2182.93 656.03,2183.71 658.16,2184.47 660.30,2185.20 662.43,2185.92 664.56,2186.63 666.70,2187.31 668.83,2187.98 670.96,2188.63 673.09,2189.26 675.23,2189.87 677.36,2190.48 679.49,2191.06 681.62,2191.63 683.76,2192.18 685.89,2192.72 688.02,2193.25 690.15,2193.76 692.29,2194.26 694.42,2194.74 696.55,2195.21 698.69,2195.67 700.82,2196.12 702.95,2196.55 705.08,2196.97 707.22,2197.39 709.35,2197.78 711.48,2198.17 713.61,2198.55 715.75,2198.91 717.88,2199.27 720.01,2199.62 722.14,2199.95 724.28,2200.28 726.41,2200.59 728.54,2200.90 730.68,2201.20 732.81,2201.49 734.94,2201.77 737.07,2202.05 739.21,2202.31 741.34,2202.57 743.47,2202.82 745.60,2203.06 747.74,2203.30 749.87,2203.52 752.00,2203.74 754.13,2203.96 756.27,2204.17 758.40,2204.37 760.53,2204.56 762.67,2204.75 764.80,2204.93 766.93,2205.11 769.06,2205.28 771.20,2205.45 773.33,2205.61 775.46,2205.77 777.59,2205.92 779.73,2206.07 781.86,2206.21 783.99,2206.35 786.12,2206.48 788.26,2206.61 790.39,2206.73 792.52,2206.85 794.66,2206.97 796.79,2207.08 798.92,2207.19 801.05,2207.29 803.19,2207.40 805.32,2207.49 807.45,2207.59 809.58,2207.68 811.72,2207.77 813.85,2207.86 815.98,2207.94 818.11,2208.02 820.25,2208.10 822.38,2208.17 824.51,2208.24 826.65,2208.31 828.78,2208.38 830.91,2208.44 833.04,2208.51 835.18,2208.57 837.31,2208.63 839.44,2208.68 841.57,2208.74 843.71,2208.79 845.84,2208.84 847.97,2208.89 850.10,2208.93 852.24,2208.98 854.37,2209.02 856.50,2209.07 858.64,2209.11 860.77,2209.15 862.90,2209.18 865.03,2209.22 867.17,2209.25 869.30,2209.29 871.43,2209.32 873.56,2209.35 875.70,2209.38 877.83,2209.41 879.96,2209.44 882.09,2209.46 884.23,2209.49 886.36,2209.51 888.49,2209.54 890.63,2209.56 892.76,2209.58 894.89,2209.60 897.02,2209.63 899.16,2209.64 901.29,2209.66 903.42,2209.68 905.55,2209.70 907.69,2209.72 909.82,2209.73 911.95,2209.75 914.08,2209.76 916.22,2209.78 918.35,2209.79 920.48,2209.80 922.62,2209.82 924.75,2209.83 926.88,2209.84 929.01,2209.85 931.15,2209.86 933.28,2209.87 935.41,2209.88 937.54,2209.89 939.68,2209.90 941.81,2209.91 943.94,2209.92 946.07,2209.92 948.21,2209.93 950.34,2209.94 952.47,2209.95 954.61,2209.95 956.74,2209.96 958.87,2209.97 961.00,2209.97 963.14,2209.98 965.27,2209.98 967.40,2209.99 969.53,2209.99 971.67,2210.00 973.80,2210.00 975.93,2210.01 978.06,2210.01 980.20,2210.02 982.33,2210.02 984.46,2210.02 986.60,2210.03 988.73,2210.03 990.86,2210.03 992.99,2210.04 995.13,2210.04 997.26,2210.04 999.39,2210.04 1001.52,2210.05 1003.66,2210.05 1005.79,2210.05 1007.92,2210.05 1010.05,2210.06 1012.19,2210.06 1014.32,2210.06 1016.45,2210.06 1018.59,2210.06 1020.72,2210.07 1022.85,2210.07 1024.98,2210.07 1027.12,2210.07 1029.25,2210.07 1031.38,2210.07 1033.51,2210.07 1035.65,2210.08 1037.78,2210.08 1039.91,2210.08 1042.04,2210.08 1044.18,2210.08 1046.31,2210.08 1048.44,2210.08 1050.58,2210.08 1052.71,2210.08 1054.84,2210.08 1056.97,2210.09 1059.11,2210.09 1061.24,2210.09 1063.37,2210.09 1065.50,2210.09 1067.64,2210.09 1069.77,2210.09 1071.90,2210.09 1074.03,2210.09 1076.17,2210.09 1078.30,2210.09 1080.43,2210.09 1082.57,2210.09 1084.70,2210.09 1086.83,2210.09 1088.96,2210.09 1091.10,2210.09 1093.23,2210.09 1095.36,2210.09 1097.49,2210.09 1099.63,2210.09 1101.76,2210.10 1103.89,2210.10 1106.02,2210.10 1108.16,2210.10 1110.29,2210.10 1112.42,2210.10 1114.56,2210.10 1116.69,2210.10 1118.82,2210.10 1120.95,2210.10 1123.09,2210.10 1125.22,2210.10 1127.35,2210.10 1129.48,2210.10 1131.62,2210.10 1133.75,2210.10 1135.88,2210.10 1138.01,2210.10 1140.15,2210.10 1142.28,2210.10 1144.41,2210.10 1146.55,2210.10 1148.68,2210.10 1150.81,2210.10 1152.94,2210.10 1155.08,2210.10 1157.21,2210.10 1159.34,2210.10 1161.47,2210.10 1163.61,2210.10 1165.74,2210.10 1167.87,2210.10 1170.00,2210.10 1172.14,2210.10 1174.27,2210.10 1176.40,2210.10 1178.54,2210.10 1180.67,2210.10 1182.80,2210.10 1184.93,2210.10 1187.07,2210.10 1189.20,2210.10 1191.33,2210.10 1193.46,2210.10 1195.60,2210.10 1197.73,2210.10 1199.86,2210.10 1201.99,2210.10 1204.13,2210.10 1206.26,2210.10 1208.39,2210.10 1210.53,2210.10 1212.66,2210.10 1214.79,2210.10 1216.92,2210.10 1219.06,2210.10 1221.19,2210.10 1223.32,2210.10 1225.45,2210.10 1227.59,2210.10 1229.72,2210.10 1231.85,2210.10 1233.98,2210.10 1236.12,2210.10 1238.25,2210.10 1240.38,2210.10 1242.52,2210.10 1244.65,2210.10 1246.78,2210.10 1248.91,2210.10 1251.05,2210.10 1253.18,2210.10 1255.31,2210.10 1257.44,2210.10 1259.58,2210.10 1261.71,2210.10 1263.84,2210.10 1265.97,2210.10 1268.11,2210.10 1270.24,2210.10 1272.37,2210.10 1274.51,2210.10 1276.64,2210.10 1278.77,2210.10 1280.90,2210.10 1283.04,2210.10 1285.17,2210.10 1287.30,2210.10 1289.43,2210.10 1291.57,2210.10 1293.70,2210.10 1295.83,2210.10 1297.96,2210.10 1300.10,2210.10 1302.23,2210.10 1304.36,2210.10 1306.50,2210.10 1308.63,2210.10 1310.76,2210.10 1312.89,2210.10 1315.03,2210.10 1317.16,2210.10 1319.29,2210.10 1321.42,2210.10 1323.56,2210.10 1325.69,2210.10 1327.82,2210.10 1329.95,2210.10 1332.09,2210.10 1334.22,2210.10 1336.35,2210.10 1338.49,2210.10 1340.62,2210.10 1342.75,2210.10 1344.88,2210.10 1347.02,2210.10 1349.15,2210.10 1351.28,2210.10 1353.41,2210.10 1355.55,2210.10 1357.68,2210.10 1359.81,2210.10 1361.94,2210.10 1364.08,2210.10 1366.21,2210.10 1368.34,2210.10 1370.48,2210.10 1372.61,2210.10 1374.74,2210.10 1376.87,2210.10 1379.01,2210.10 1381.14,2210.10 1383.27,2210.10 1385.40,2210.10 1387.54,2210.10 1389.67,2210.10 1391.80,2210.10 1393.93,2210.10 1396.07,2210.10 1398.20,2210.10" stroke="#0072BD" stroke-width="2.9" fill="none" stroke-linejoin="round"/>
<polyline points="118.60,1929.81 120.73,1924.94 122.87,1920.02 125.00,1915.05 127.13,1910.02 129.26,1904.95 131.40,1899.83 133.53,1894.65 135.66,1889.43 137.79,1884.16 139.93,1878.84 142.06,1873.47 144.19,1868.05 146.32,1862.59 148.46,1857.08 150.59,1851.52 152.72,1845.92 154.86,1840.27 156.99,1834.58 159.12,1828.85 161.25,1823.07 163.39,1817.25 165.52,1811.39 167.65,1805.49 169.78,1799.55 171.92,1793.56 174.05,1787.54 176.18,1781.49 178.31,1775.39 180.45,1769.26 182.58,1763.10 184.71,1756.90 186.85,1750.67 188.98,1744.40 191.11,1738.11 193.24,1731.78 195.38,1725.43 197.51,1719.05 199.64,1712.64 201.77,1706.21 203.91,1699.75 206.04,1693.27 208.17,1686.76 210.30,1680.24 212.44,1673.70 214.57,1667.14 216.70,1660.56 218.84,1653.96 220.97,1647.35 223.10,1640.73 225.23,1634.10 227.37,1627.46 229.50,1620.80 231.63,1614.15 233.76,1607.48 235.90,1600.81 238.03,1594.14 240.16,1587.47 242.29,1580.79 244.43,1574.12 246.56,1567.45 248.69,1560.79 250.83,1554.13 252.96,1547.49 255.09,1540.85 257.22,1534.22 259.36,1527.61 261.49,1521.01 263.62,1514.42 265.75,1507.86 267.89,1501.31 270.02,1494.79 272.15,1488.29 274.28,1481.81 276.42,1475.36 278.55,1468.94 280.68,1462.55 282.82,1456.19 284.95,1449.87 287.08,1443.58 289.21,1437.32 291.35,1431.11 293.48,1424.93 295.61,1418.80 297.74,1412.71 299.88,1406.67 302.01,1400.68 304.14,1394.73 306.27,1388.84 308.41,1383.00 310.54,1377.21 312.67,1371.48 314.81,1365.80 316.94,1360.19 319.07,1354.64 321.20,1349.15 323.34,1343.72 325.47,1338.37 327.60,1333.08 329.73,1327.85 331.87,1322.71 334.00,1317.63 336.13,1312.63 338.26,1307.70 340.40,1302.85 342.53,1298.08 344.66,1293.39 346.80,1288.78 348.93,1284.26 351.06,1279.82 353.19,1275.47 355.33,1271.20 357.46,1267.03 359.59,1262.94 361.72,1258.95 363.86,1255.05 365.99,1251.25 368.12,1247.54 370.25,1243.93 372.39,1240.41 374.52,1237.00 376.65,1233.68 378.79,1230.47 380.92,1227.36 383.05,1224.36 385.18,1221.46 387.32,1218.66 389.45,1215.97 391.58,1213.39 393.71,1210.92 395.85,1208.55 397.98,1206.30 400.11,1204.16 402.24,1202.13 404.38,1200.21 406.51,1198.40 408.64,1196.71 410.78,1195.13 412.91,1193.67 415.04,1192.32 417.17,1191.09 419.31,1189.97 421.44,1188.97 423.57,1188.09 425.70,1187.32 427.84,1186.68 429.97,1186.14 432.10,1185.73 434.23,1185.44 436.37,1185.26 438.50,1185.20 440.63,1185.26 442.77,1185.44 444.90,1185.73 447.03,1186.14 449.16,1186.68 451.30,1187.32 453.43,1188.09 455.56,1188.97 457.69,1189.97 459.83,1191.09 461.96,1192.32 464.09,1193.67 466.22,1195.13 468.36,1196.71 470.49,1198.40 472.62,1200.21 474.76,1202.13 476.89,1204.16 479.02,1206.30 481.15,1208.55 483.29,1210.92 485.42,1213.39 487.55,1215.97 489.68,1218.66 491.82,1221.46 493.95,1224.36 496.08,1227.36 498.21,1230.47 500.35,1233.68 502.48,1237.00 504.61,1240.41 506.75,1243.93 508.88,1247.54 511.01,1251.25 513.14,1255.05 515.28,1258.95 517.41,1262.94 519.54,1267.03 521.67,1271.20 523.81,1275.47 525.94,1279.82 528.07,1284.26 530.20,1288.78 532.34,1293.39 534.47,1298.08 536.60,1302.85 538.74,1307.70 540.87,1312.63 543.00,1317.63 545.13,1322.71 547.27,1327.85 549.40,1333.08 551.53,1338.37 553.66,1343.72 555.80,1349.15 557.93,1354.64 560.06,1360.19 562.19,1365.80 564.33,1371.48 566.46,1377.21 568.59,1383.00 570.73,1388.84 572.86,1394.73 574.99,1400.68 577.12,1406.67 579.26,1412.71 581.39,1418.80 583.52,1424.93 585.65,1431.11 587.79,1437.32 589.92,1443.58 592.05,1449.87 594.18,1456.19 596.32,1462.55 598.45,1468.94 600.58,1475.36 602.72,1481.81 604.85,1488.29 606.98,1494.79 609.11,1501.31 611.25,1507.86 613.38,1514.42 615.51,1521.01 617.64,1527.61 619.78,1534.22 621.91,1540.85 624.04,1547.49 626.17,1554.13 628.31,1560.79 630.44,1567.45 632.57,1574.12 634.71,1580.79 636.84,1587.47 638.97,1594.14 641.10,1600.81 643.24,1607.48 645.37,1614.15 647.50,1620.80 649.63,1627.46 651.77,1634.10 653.90,1640.73 656.03,1647.35 658.16,1653.96 660.30,1660.56 662.43,1667.14 664.56,1673.70 666.70,1680.24 668.83,1686.76 670.96,1693.27 673.09,1699.75 675.23,1706.21 677.36,1712.64 679.49,1719.05 681.62,1725.43 683.76,1731.78 685.89,1738.11 688.02,1744.40 690.15,1750.67 692.29,1756.90 694.42,1763.10 696.55,1769.26 698.69,1775.39 700.82,1781.49 702.95,1787.54 705.08,1793.56 707.22,1799.55 709.35,1805.49 711.48,1811.39 713.61,1817.25 715.75,1823.07 717.88,1828.85 720.01,1834.58 722.14,1840.27 724.28,1845.92 726.41,1851.52 728.54,1857.08 730.68,1862.59 732.81,1868.05 734.94,1873.47 737.07,1878.84 739.21,1884.16 741.34,1889.43 743.47,1894.65 745.60,1899.83 747.74,1904.95 749.87,1910.02 752.00,1915.05 754.13,1920.02 756.27,1924.94 758.40,1929.81 760.53,1934.63 762.67,1939.40 764.80,1944.12 766.93,1948.78 769.06,1953.39 771.20,1957.95 773.33,1962.46 775.46,1966.92 777.59,1971.32 779.73,1975.67 781.86,1979.96 783.99,1984.21 786.12,1988.40 788.26,1992.54 790.39,1996.62 792.52,2000.66 794.66,2004.64 796.79,2008.56 798.92,2012.44 801.05,2016.26 803.19,2020.04 805.32,2023.76 807.45,2027.42 809.58,2031.04 811.72,2034.60 813.85,2038.12 815.98,2041.58 818.11,2044.99 820.25,2048.36 822.38,2051.67 824.51,2054.93 826.65,2058.14 828.78,2061.30 830.91,2064.42 833.04,2067.48 835.18,2070.50 837.31,2073.47 839.44,2076.39 841.57,2079.26 843.71,2082.09 845.84,2084.87 847.97,2087.60 850.10,2090.29 852.24,2092.93 854.37,2095.53 856.50,2098.08 858.64,2100.59 860.77,2103.05 862.90,2105.48 865.03,2107.85 867.17,2110.19 869.30,2112.48 871.43,2114.73 873.56,2116.94 875.70,2119.11 877.83,2121.24 879.96,2123.33 882.09,2125.38 884.23,2127.40 886.36,2129.37 888.49,2131.30 890.63,2133.20 892.76,2135.06 894.89,2136.89 897.02,2138.67 899.16,2140.43 901.29,2142.14 903.42,2143.82 905.55,2145.47 907.69,2147.09 909.82,2148.67 911.95,2150.22 914.08,2151.73 916.22,2153.22 918.35,2154.67 920.48,2156.09 922.62,2157.48 924.75,2158.84 926.88,2160.18 929.01,2161.48 931.15,2162.75 933.28,2164.00 935.41,2165.22 937.54,2166.41 939.68,2167.58 941.81,2168.72 943.94,2169.83 946.07,2170.92 948.21,2171.98 950.34,2173.02 952.47,2174.03 954.61,2175.02 956.74,2175.99 958.87,2176.93 961.00,2177.85 963.14,2178.75 965.27,2179.63 967.40,2180.49 969.53,2181.32 971.67,2182.14 973.80,2182.93 975.93,2183.71 978.06,2184.47 980.20,2185.20 982.33,2185.92 984.46,2186.63 986.60,2187.31 988.73,2187.98 990.86,2188.63 992.99,2189.26 995.13,2189.87 997.26,2190.48 999.39,2191.06 1001.52,2191.63 1003.66,2192.18 1005.79,2192.72 1007.92,2193.25 1010.05,2193.76 1012.19,2194.26 1014.32,2194.74 1016.45,2195.21 1018.59,2195.67 1020.72,2196.12 1022.85,2196.55 1024.98,2196.97 1027.12,2197.39 1029.25,2197.78 1031.38,2198.17 1033.51,2198.55 1035.65,2198.91 1037.78,2199.27 1039.91,2199.62 1042.04,2199.95 1044.18,2200.28 1046.31,2200.59 1048.44,2200.90 1050.58,2201.20 1052.71,2201.49 1054.84,2201.77 1056.97,2202.05 1059.11,2202.31 1061.24,2202.57 1063.37,2202.82 1065.50,2203.06 1067.64,2203.30 1069.77,2203.52 1071.90,2203.74 1074.03,2203.96 1076.17,2204.17 1078.30,2204.37 1080.43,2204.56 1082.57,2204.75 1084.70,2204.93 1086.83,2205.11 1088.96,2205.28 1091.10,2205.45 1093.23,2205.61 1095.36,2205.77 1097.49,2205.92 1099.63,2206.07 1101.76,2206.21 1103.89,2206.35 1106.02,2206.48 1108.16,2206.61 1110.29,2206.73 1112.42,2206.85 1114.56,2206.97 1116.69,2207.08 1118.82,2207.19 1120.95,2207.29 1123.09,2207.40 1125.22,2207.49 1127.35,2207.59 1129.48,2207.68 1131.62,2207.77 1133.75,2207.86 1135.88,2207.94 1138.01,2208.02 1140.15,2208.10 1142.28,2208.17 1144.41,2208.24 1146.55,2208.31 1148.68,2208.38 1150.81,2208.44 1152.94,2208.51 1155.08,2208.57 1157.21,2208.63 1159.34,2208.68 1161.47,2208.74 1163.61,2208.79 1165.74,2208.84 1167.87,2208.89 1170.00,2208.93 1172.14,2208.98 1174.27,2209.02 1176.40,2209.07 1178.54,2209.11 1180.67,2209.15 1182.80,2209.18 1184.93,2209.22 1187.07,2209.25 1189.20,2209.29 1191.33,2209.32 1193.46,2209.35 1195.60,2209.38 1197.73,2209.41 1199.86,2209.44 1201.99,2209.46 1204.13,2209.49 1206.26,2209.51 1208.39,2209.54 1210.53,2209.56 1212.66,2209.58 1214.79,2209.60 1216.92,2209.63 1219.06,2209.64 1221.19,2209.66 1223.32,2209.68 1225.45,2209.70 1227.59,2209.72 1229.72,2209.73 1231.85,2209.75 1233.98,2209.76 1236.12,2209.78 1238.25,2209.79 1240.38,2209.80 1242.52,2209.82 1244.65,2209.83 1246.78,2209.84 1248.91,2209.85 1251.05,2209.86 1253.18,2209.87 1255.31,2209.88 1257.44,2209.89 1259.58,2209.90 1261.71,2209.91 1263.84,2209.92 1265.97,2209.92 1268.11,2209.93 1270.24,2209.94 1272.37,2209.95 1274.51,2209.95 1276.64,2209.96 1278.77,2209.97 1280.90,2209.97 1283.04,2209.98 1285.17,2209.98 1287.30,2209.99 1289.43,2209.99 1291.57,2210.00 1293.70,2210.00 1295.83,2210.01 1297.96,2210.01 1300.10,2210.02 1302.23,2210.02 1304.36,2210.02 1306.50,2210.03 1308.63,2210.03 1310.76,2210.03 1312.89,2210.04 1315.03,2210.04 1317.16,2210.04 1319.29,2210.04 1321.42,2210.05 1323.56,2210.05 1325.69,2210.05 1327.82,2210.05 1329.95,2210.06 1332.09,2210.06 1334.22,2210.06 1336.35,2210.06 1338.49,2210.06 1340.62,2210.07 1342.75,2210.07 1344.88,2210.07 1347.02,2210.07 1349.15,2210.07 1351.28,2210.07 1353.41,2210.07 1355.55,2210.08 1357.68,2210.08 1359.81,2210.08 1361.94,2210.08 1364.08,2210.08 1366.21,2210.08 1368.34,2210.08 1370.48,2210.08 1372.61,2210.08 1374.74,2210.08 1376.87,2210.09 1379.01,2210.09 1381.14,2210.09 1383.27,2210.09 1385.40,2210.09 1387.54,2210.09 1389.67,2210.09 1391.80,2210.09 1393.93,2210.09 1396.07,2210.09 1398.20,2210.09" stroke="#D95319" stroke-width="2.9" fill="none" stroke-linejoin="round"/>
<polyline points="118.60,2204.37 120.73,2204.17 122.87,2203.96 125.00,2203.74 127.13,2203.52 129.26,2203.30 131.40,2203.06 133.53,2202.82 135.66,2202.57 137.79,2202.31 139.93,2202.05 142.06,2201.77 144.19,2201.49 146.32,2201.20 148.46,2200.90 150.59,2200.59 152.72,2200.28 154.86,2199.95 156.99,2199.62 159.12,2199.27 161.25,2198.91 163.39,2198.55 165.52,2198.17 167.65,2197.78 169.78,2197.39 171.92,2196.97 174.05,2196.55 176.18,2196.12 178.31,2195.67 180.45,2195.21 182.58,2194.74 184.71,2194.26 186.85,2193.76 188.98,2193.25 191.11,2192.72 193.24,2192.18 195.38,2191.63 197.51,2191.06 199.64,2190.48 201.77,2189.87 203.91,2189.26 206.04,2188.63 208.17,2187.98 210.30,2187.31 212.44,2186.63 214.57,2185.92 216.70,2185.20 218.84,2184.47 220.97,2183.71 223.10,2182.93 225.23,2182.14 227.37,2181.32 229.50,2180.49 231.63,2179.63 233.76,2178.75 235.90,2177.85 238.03,2176.93 240.16,2175.99 242.29,2175.02 244.43,2174.03 246.56,2173.02 248.69,2171.98 250.83,2170.92 252.96,2169.83 255.09,2168.72 257.22,2167.58 259.36,2166.41 261.49,2165.22 263.62,2164.00 265.75,2162.75 267.89,2161.48 270.02,2160.18 272.15,2158.84 274.28,2157.48 276.42,2156.09 278.55,2154.67 280.68,2153.22 282.82,2151.73 284.95,2150.22 287.08,2148.67 289.21,2147.09 291.35,2145.47 293.48,2143.82 295.61,2142.14 297.74,2140.43 299.88,2138.67 302.01,2136.89 304.14,2135.06 306.27,2133.20 308.41,2131.30 310.54,2129.37 312.67,2127.40 314.81,2125.38 316.94,2123.33 319.07,2121.24 321.20,2119.11 323.34,2116.94 325.47,2114.73 327.60,2112.48 329.73,2110.19 331.87,2107.85 334.00,2105.48 336.13,2103.05 338.26,2100.59 340.40,2098.08 342.53,2095.53 344.66,2092.93 346.80,2090.29 348.93,2087.60 351.06,2084.87 353.19,2082.09 355.33,2079.26 357.46,2076.39 359.59,2073.47 361.72,2070.50 363.86,2067.48 365.99,2064.42 368.12,2061.30 370.25,2058.14 372.39,2054.93 374.52,2051.67 376.65,2048.36 378.79,2044.99 380.92,2041.58 383.05,2038.12 385.18,2034.60 387.32,2031.04 389.45,2027.42 391.58,2023.76 393.71,2020.04 395.85,2016.26 397.98,2012.44 400.11,2008.56 402.24,2004.64 404.38,2000.66 406.51,1996.62 408.64,1992.54 410.78,1988.40 412.91,1984.21 415.04,1979.96 417.17,1975.67 419.31,1971.32 421.44,1966.92 423.57,1962.46 425.70,1957.95 427.84,1953.39 429.97,1948.78 432.10,1944.12 434.23,1939.40 436.37,1934.63 438.50,1929.81 440.63,1924.94 442.77,1920.02 444.90,1915.05 447.03,1910.02 449.16,1904.95 451.30,1899.83 453.43,1894.65 455.56,1889.43 457.69,1884.16 459.83,1878.84 461.96,1873.47 464.09,1868.05 466.22,1862.59 468.36,1857.08 470.49,1851.52 472.62,1845.92 474.76,1840.27 476.89,1834.58 479.02,1828.85 481.15,1823.07 483.29,1817.25 485.42,1811.39 487.55,1805.49 489.68,1799.55 491.82,1793.56 493.95,1787.54 496.08,1781.49 498.21,1775.39 500.35,1769.26 502.48,1763.10 504.61,1756.90 506.75,1750.67 508.88,1744.40 511.01,1738.11 513.14,1731.78 515.28,1725.43 517.41,1719.05 519.54,1712.64 521.67,1706.21 523.81,1699.75 525.94,1693.27 528.07,1686.76 530.20,1680.24 532.34,1673.70 534.47,1667.14 536.60,1660.56 538.74,1653.96 540.87,1647.35 543.00,1640.73 545.13,1634.10 547.27,1627.46 549.40,1620.80 551.53,1614.15 553.66,1607.48 555.80,1600.81 557.93,1594.14 560.06,1587.47 562.19,1580.79 564.33,1574.12 566.46,1567.45 568.59,1560.79 570.73,1554.13 572.86,1547.49 574.99,1540.85 577.12,1534.22 579.26,1527.61 581.39,1521.01 583.52,1514.42 585.65,1507.86 587.79,1501.31 589.92,1494.79 592.05,1488.29 594.18,1481.81 596.32,1475.36 598.45,1468.94 600.58,1462.55 602.72,1456.19 604.85,1449.87 606.98,1443.58 609.11,1437.32 611.25,1431.11 613.38,1424.93 615.51,1418.80 617.64,1412.71 619.78,1406.67 621.91,1400.68 624.04,1394.73 626.17,1388.84 628.31,1383.00 630.44,1377.21 632.57,1371.48 634.71,1365.80 636.84,1360.19 638.97,1354.64 641.10,1349.15 643.24,1343.72 645.37,1338.37 647.50,1333.08 649.63,1327.85 651.77,1322.71 653.90,1317.63 656.03,1312.63 658.16,1307.70 660.30,1302.85 662.43,1298.08 664.56,1293.39 666.70,1288.78 668.83,1284.26 670.96,1279.82 673.09,1275.47 675.23,1271.20 677.36,1267.03 679.49,1262.94 681.62,1258.95 683.76,1255.05 685.89,1251.25 688.02,1247.54 690.15,1243.93 692.29,1240.41 694.42,1237.00 696.55,1233.68 698.69,1230.47 700.82,1227.36 702.95,1224.36 705.08,1221.46 707.22,1218.66 709.35,1215.97 711.48,1213.39 713.61,1210.92 715.75,1208.55 717.88,1206.30 720.01,1204.16 722.14,1202.13 724.28,1200.21 726.41,1198.40 728.54,1196.71 730.68,1195.13 732.81,1193.67 734.94,1192.32 737.07,1191.09 739.21,1189.97 741.34,1188.97 743.47,1188.09 745.60,1187.32 747.74,1186.68 749.87,1186.14 752.00,1185.73 754.13,1185.44 756.27,1185.26 758.40,1185.20 760.53,1185.26 762.67,1185.44 764.80,1185.73 766.93,1186.14 769.06,1186.68 771.20,1187.32 773.33,1188.09 775.46,1188.97 777.59,1189.97 779.73,1191.09 781.86,1192.32 783.99,1193.67 786.12,1195.13 788.26,1196.71 790.39,1198.40 792.52,1200.21 794.66,1202.13 796.79,1204.16 798.92,1206.30 801.05,1208.55 803.19,1210.92 805.32,1213.39 807.45,1215.97 809.58,1218.66 811.72,1221.46 813.85,1224.36 815.98,1227.36 818.11,1230.47 820.25,1233.68 822.38,1237.00 824.51,1240.41 826.65,1243.93 828.78,1247.54 830.91,1251.25 833.04,1255.05 835.18,1258.95 837.31,1262.94 839.44,1267.03 841.57,1271.20 843.71,1275.47 845.84,1279.82 847.97,1284.26 850.10,1288.78 852.24,1293.39 854.37,1298.08 856.50,1302.85 858.64,1307.70 860.77,1312.63 862.90,1317.63 865.03,1322.71 867.17,1327.85 869.30,1333.08 871.43,1338.37 873.56,1343.72 875.70,1349.15 877.83,1354.64 879.96,1360.19 882.09,1365.80 884.23,1371.48 886.36,1377.21 888.49,1383.00 890.63,1388.84 892.76,1394.73 894.89,1400.68 897.02,1406.67 899.16,1412.71 901.29,1418.80 903.42,1424.93 905.55,1431.11 907.69,1437.32 909.82,1443.58 911.95,1449.87 914.08,1456.19 916.22,1462.55 918.35,1468.94 920.48,1475.36 922.62,1481.81 924.75,1488.29 926.88,1494.79 929.01,1501.31 931.15,1507.86 933.28,1514.42 935.41,1521.01 937.54,1527.61 939.68,1534.22 941.81,1540.85 943.94,1547.49 946.07,1554.13 948.21,1560.79 950.34,1567.45 952.47,1574.12 954.61,1580.79 956.74,1587.47 958.87,1594.14 961.00,1600.81 963.14,1607.48 965.27,1614.15 967.40,1620.80 969.53,1627.46 971.67,1634.10 973.80,1640.73 975.93,1647.35 978.06,1653.96 980.20,1660.56 982.33,1667.14 984.46,1673.70 986.60,1680.24 988.73,1686.76 990.86,1693.27 992.99,1699.75 995.13,1706.21 997.26,1712.64 999.39,1719.05 1001.52,1725.43 1003.66,1731.78 1005.79,1738.11 1007.92,1744.40 1010.05,1750.67 1012.19,1756.90 1014.32,1763.10 1016.45,1769.26 1018.59,1775.39 1020.72,1781.49 1022.85,1787.54 1024.98,1793.56 1027.12,1799.55 1029.25,1805.49 1031.38,1811.39 1033.51,1817.25 1035.65,1823.07 1037.78,1828.85 1039.91,1834.58 1042.04,1840.27 1044.18,1845.92 1046.31,1851.52 1048.44,1857.08 1050.58,1862.59 1052.71,1868.05 1054.84,1873.47 1056.97,1878.84 1059.11,1884.16 1061.24,1889.43 1063.37,1894.65 1065.50,1899.83 1067.64,1904.95 1069.77,1910.02 1071.90,1915.05 1074.03,1920.02 1076.17,1924.94 1078.30,1929.81 1080.43,1934.63 1082.57,1939.40 1084.70,1944.12 1086.83,1948.78 1088.96,1953.39 1091.10,1957.95 1093.23,1962.46 1095.36,1966.92 1097.49,1971.32 1099.63,1975.67 1101.76,1979.96 1103.89,1984.21 1106.02,1988.40 1108.16,1992.54 1110.29,1996.62 1112.42,2000.66 1114.56,2004.64 1116.69,2008.56 1118.82,2012.44 1120.95,2016.26 1123.09,2020.04 1125.22,2023.76 1127.35,2027.42 1129.48,2031.04 1131.62,2034.60 1133.75,2038.12 1135.88,2041.58 1138.01,2044.99 1140.15,2048.36 1142.28,2051.67 1144.41,2054.93 1146.55,2058.14 1148.68,2061.30 1150.81,2064.42 1152.94,2067.48 1155.08,2070.50 1157.21,2073.47 1159.34,2076.39 1161.47,2079.26 1163.61,2082.09 1165.74,2084.87 1167.87,2087.60 1170.00,2090.29 1172.14,2092.93 1174.27,2095.53 1176.40,2098.08 1178.54,2100.59 1180.67,2103.05 1182.80,2105.48 1184.93,2107.85 1187.07,2110.19 1189.20,2112.48 1191.33,2114.73 1193.46,2116.94 1195.60,2119.11 1197.73,2121.24 1199.86,2123.33 1201.99,2125.38 1204.13,2127.40 1206.26,2129.37 1208.39,2131.30 1210.53,2133.20 1212.66,2135.06 1214.79,2136.89 1216.92,2138.67 1219.06,2140.43 1221.19,2142.14 1223.32,2143.82 1225.45,2145.47 1227.59,2147.09 1229.72,2148.67 1231.85,2150.22 1233.98,2151.73 1236.12,2153.22 1238.25,2154.67 1240.38,2156.09 1242.52,2157.48 1244.65,2158.84 1246.78,2160.18 1248.91,2161.48 1251.05,2162.75 1253.18,2164.00 1255.31,2165.22 1257.44,2166.41 1259.58,2167.58 1261.71,2168.72 1263.84,2169.83 1265.97,2170.92 1268.11,2171.98 1270.24,2173.02 1272.37,2174.03 1274.51,2175.02 1276.64,2175.99 1278.77,2176.93 1280.90,2177.85 1283.04,2178.75 1285.17,2179.63 1287.30,2180.49 1289.43,2181.32 1291.57,2182.14 1293.70,2182.93 1295.83,2183.71 1297.96,2184.47 1300.10,2185.20 1302.23,2185.92 1304.36,2186.63 1306.50,2187.31 1308.63,2187.98 1310.76,2188.63 1312.89,2189.26 1315.03,2189.87 1317.16,2190.48 1319.29,2191.06 1321.42,2191.63 1323.56,2192.18 1325.69,2192.72 1327.82,2193.25 1329.95,2193.76 1332.09,2194.26 1334.22,2194.74 1336.35,2195.21 1338.49,2195.67 1340.62,2196.12 1342.75,2196.55 1344.88,2196.97 1347.02,2197.39 1349.15,2197.78 1351.28,2198.17 1353.41,2198.55 1355.55,2198.91 1357.68,2199.27 1359.81,2199.62 1361.94,2199.95 1364.08,2200.28 1366.21,2200.59 1368.34,2200.90 1370.48,2201.20 1372.61,2201.49 1374.74,2201.77 1376.87,2202.05 1379.01,2202.31 1381.14,2202.57 1383.27,2202.82 1385.40,2203.06 1387.54,2203.30 1389.67,2203.52 1391.80,2203.74 1393.93,2203.96 1396.07,2204.17 1398.20,2204.37" stroke="#EDB120" stroke-width="2.9" fill="none" stroke-linejoin="round"/>
<polyline points="118.60,2210.09 120.73,2210.09 122.87,2210.09 125.00,2210.09 127.13,2210.09 129.26,2210.09 131.40,2210.09 133.53,2210.09 135.66,2210.09 137.79,2210.09 139.93,2210.09 142.06,2210.08 144.19,2210.08 146.32,2210.08 148.46,2210.08 150.59,2210.08 152.72,2210.08 154.86,2210.08 156.99,2210.08 159.12,2210.08 161.25,2210.08 163.39,2210.07 165.52,2210.07 167.65,2210.07 169.78,2210.07 171.92,2210.07 174.05,2210.07 176.18,2210.07 178.31,2210.06 180.45,2210.06 182.58,2210.06 184.71,2210.06 186.85,2210.06 188.98,2210.05 191.11,2210.05 193.24,2210.05 195.38,2210.05 197.51,2210.04 199.64,2210.04 201.77,2210.04 203.91,2210.04 206.04,2210.03 208.17,2210.03 210.30,2210.03 212.44,2210.02 214.57,2210.02 216.70,2210.02 218.84,2210.01 220.97,2210.01 223.10,2210.00 225.23,2210.00 227.37,2209.99 229.50,2209.99 231.63,2209.98 233.76,2209.98 235.90,2209.97 238.03,2209.97 240.16,2209.96 242.29,2209.95 244.43,2209.95 246.56,2209.94 248.69,2209.93 250.83,2209.92 252.96,2209.92 255.09,2209.91 257.22,2209.90 259.36,2209.89 261.49,2209.88 263.62,2209.87 265.75,2209.86 267.89,2209.85 270.02,2209.84 272.15,2209.83 274.28,2209.82 276.42,2209.80 278.55,2209.79 280.68,2209.78 282.82,2209.76 284.95,2209.75 287.08,2209.73 289.21,2209.72 291.35,2209.70 293.48,2209.68 295.61,2209.66 297.74,2209.64 299.88,2209.63 302.01,2209.60 304.14,2209.58 306.27,2209.56 308.41,2209.54 310.54,2209.51 312.67,2209.49 314.81,2209.46 316.94,2209.44 319.07,2209.41 321.20,2209.38 323.34,2209.35 325.47,2209.32 327.60,2209.29 329.73,2209.25 331.87,2209.22 334.00,2209.18 336.13,2209.15 338.26,2209.11 340.40,2209.07 342.53,2209.02 344.66,2208.98 346.80,2208.93 348.93,2208.89 351.06,2208.84 353.19,2208.79 355.33,2208.74 357.46,2208.68 359.59,2208.63 361.72,2208.57 363.86,2208.51 365.99,2208.44 368.12,2208.38 370.25,2208.31 372.39,2208.24 374.52,2208.17 376.65,2208.10 378.79,2208.02 380.92,2207.94 383.05,2207.86 385.18,2207.77 387.32,2207.68 389.45,2207.59 391.58,2207.49 393.71,2207.40 395.85,2207.29 397.98,2207.19 400.11,2207.08 402.24,2206.97 404.38,2206.85 406.51,2206.73 408.64,2206.61 410.78,2206.48 412.91,2206.35 415.04,2206.21 417.17,2206.07 419.31,2205.92 421.44,2205.77 423.57,2205.61 425.70,2205.45 427.84,2205.28 429.97,2205.11 432.10,2204.93 434.23,2204.75 436.37,2204.56 438.50,2204.37 440.63,2204.17 442.77,2203.96 444.90,2203.74 447.03,2203.52 449.16,2203.30 451.30,2203.06 453.43,2202.82 455.56,2202.57 457.69,2202.31 459.83,2202.05 461.96,2201.77 464.09,2201.49 466.22,2201.20 468.36,2200.90 470.49,2200.59 472.62,2200.28 474.76,2199.95 476.89,2199.62 479.02,2199.27 481.15,2198.91 483.29,2198.55 485.42,2198.17 487.55,2197.78 489.68,2197.39 491.82,2196.97 493.95,2196.55 496.08,2196.12 498.21,2195.67 500.35,2195.21 502.48,2194.74 504.61,2194.26 506.75,2193.76 508.88,2193.25 511.01,2192.72 513.14,2192.18 515.28,2191.63 517.41,2191.06 519.54,2190.48 521.67,2189.87 523.81,2189.26 525.94,2188.63 528.07,2187.98 530.20,2187.31 532.34,2186.63 534.47,2185.92 536.60,2185.20 538.74,2184.47 540.87,2183.71 543.00,2182.93 545.13,2182.14 547.27,2181.32 549.40,2180.49 551.53,2179.63 553.66,2178.75 555.80,2177.85 557.93,2176.93 560.06,2175.99 562.19,2175.02 564.33,2174.03 566.46,2173.02 568.59,2171.98 570.73,2170.92 572.86,2169.83 574.99,2168.72 577.12,2167.58 579.26,2166.41 581.39,2165.22 583.52,2164.00 585.65,2162.75 587.79,2161.48 589.92,2160.18 592.05,2158.84 594.18,2157.48 596.32,2156.09 598.45,2154.67 600.58,2153.22 602.72,2151.73 604.85,2150.22 606.98,2148.67 609.11,2147.09 611.25,2145.47 613.38,2143.82 615.51,2142.14 617.64,2140.43 619.78,2138.67 621.91,2136.89 624.04,2135.06 626.17,2133.20 628.31,2131.30 630.44,2129.37 632.57,2127.40 634.71,2125.38 636.84,2123.33 638.97,2121.24 641.10,2119.11 643.24,2116.94 645.37,2114.73 647.50,2112.48 649.63,2110.19 651.77,2107.85 653.90,2105.48 656.03,2103.05 658.16,2100.59 660.30,2098.08 662.43,2095.53 664.56,2092.93 666.70,2090.29 668.83,2087.60 670.96,2084.87 673.09,2082.09 675.23,2079.26 677.36,2076.39 679.49,2073.47 681.62,2070.50 683.76,2067.48 685.89,2064.42 688.02,2061.30 690.15,2058.14 692.29,2054.93 694.42,2051.67 696.55,2048.36 698.69,2044.99 700.82,2041.58 702.95,2038.12 705.08,2034.60 707.22,2031.04 709.35,2027.42 711.48,2023.76 713.61,2020.04 715.75,2016.26 717.88,2012.44 720.01,2008.56 722.14,2004.64 724.28,2000.66 726.41,1996.62 728.54,1992.54 730.68,1988.40 732.81,1984.21 734.94,1979.96 737.07,1975.67 739.21,1971.32 741.34,1966.92 743.47,1962.46 745.60,1957.95 747.74,1953.39 749.87,1948.78 752.00,1944.12 754.13,1939.40 756.27,1934.63 758.40,1929.81 760.53,1924.94 762.67,1920.02 764.80,1915.05 766.93,1910.02 769.06,1904.95 771.20,1899.83 773.33,1894.65 775.46,1889.43 777.59,1884.16 779.73,1878.84 781.86,1873.47 783.99,1868.05 786.12,1862.59 788.26,1857.08 790.39,1851.52 792.52,1845.92 794.66,1840.27 796.79,1834.58 798.92,1828.85 801.05,1823.07 803.19,1817.25 805.32,1811.39 807.45,1805.49 809.58,1799.55 811.72,1793.56 813.85,1787.54 815.98,1781.49 818.11,1775.39 820.25,1769.26 822.38,1763.10 824.51,1756.90 826.65,1750.67 828.78,1744.40 830.91,1738.11 833.04,1731.78 835.18,1725.43 837.31,1719.05 839.44,1712.64 841.57,1706.21 843.71,1699.75 845.84,1693.27 847.97,1686.76 850.10,1680.24 852.24,1673.70 854.37,1667.14 856.50,1660.56 858.64,1653.96 860.77,1647.35 862.90,1640.73 865.03,1634.10 867.17,1627.46 869.30,1620.80 871.43,1614.15 873.56,1607.48 875.70,1600.81 877.83,1594.14 879.96,1587.47 882.09,1580.79 884.23,1574.12 886.36,1567.45 888.49,1560.79 890.63,1554.13 892.76,1547.49 894.89,1540.85 897.02,1534.22 899.16,1527.61 901.29,1521.01 903.42,1514.42 905.55,1507.86 907.69,1501.31 909.82,1494.79 911.95,1488.29 914.08,1481.81 916.22,1475.36 918.35,1468.94 920.48,1462.55 922.62,1456.19 924.75,1449.87 926.88,1443.58 929.01,1437.32 931.15,1431.11 933.28,1424.93 935.41,1418.80 937.54,1412.71 939.68,1406.67 941.81,1400.68 943.94,1394.73 946.07,1388.84 948.21,1383.00 950.34,1377.21 952.47,1371.48 954.61,1365.80 956.74,1360.19 958.87,1354.64 961.00,1349.15 963.14,1343.72 965.27,1338.37 967.40,1333.08 969.53,1327.85 971.67,1322.71 973.80,1317.63 975.93,1312.63 978.06,1307.70 980.20,1302.85 982.33,1298.08 984.46,1293.39 986.60,1288.78 988.73,1284.26 990.86,1279.82 992.99,1275.47 995.13,1271.20 997.26,1267.03 999.39,1262.94 1001.52,1258.95 1003.66,1255.05 1005.79,1251.25 1007.92,1247.54 1010.05,1243.93 1012.19,1240.41 1014.32,1237.00 1016.45,1233.68 1018.59,1230.47 1020.72,1227.36 1022.85,1224.36 1024.98,1221.46 1027.12,1218.66 1029.25,1215.97 1031.38,1213.39 1033.51,1210.92 1035.65,1208.55 1037.78,1206.30 1039.91,1204.16 1042.04,1202.13 1044.18,1200.21 1046.31,1198.40 1048.44,1196.71 1050.58,1195.13 1052.71,1193.67 1054.84,1192.32 1056.97,1191.09 1059.11,1189.97 1061.24,1188.97 1063.37,1188.09 1065.50,1187.32 1067.64,1186.68 1069.77,1186.14 1071.90,1185.73 1074.03,1185.44 1076.17,1185.26 1078.30,1185.20 1080.43,1185.26 1082.57,1185.44 1084.70,1185.73 1086.83,1186.14 1088.96,1186.68 1091.10,1187.32 1093.23,1188.09 1095.36,1188.97 1097.49,1189.97 1099.63,1191.09 1101.76,1192.32 1103.89,1193.67 1106.02,1195.13 1108.16,1196.71 1110.29,1198.40 1112.42,1200.21 1114.56,1202.13 1116.69,1204.16 1118.82,1206.30 1120.95,1208.55 1123.09,1210.92 1125.22,1213.39 1127.35,1215.97 1129.48,1218.66 1131.62,1221.46 1133.75,1224.36 1135.88,1227.36 1138.01,1230.47 1140.15,1233.68 1142.28,1237.00 1144.41,1240.41 1146.55,1243.93 1148.68,1247.54 1150.81,1251.25 1152.94,1255.05 1155.08,1258.95 1157.21,1262.94 1159.34,1267.03 1161.47,1271.20 1163.61,1275.47 1165.74,1279.82 1167.87,1284.26 1170.00,1288.78 1172.14,1293.39 1174.27,1298.08 1176.40,1302.85 1178.54,1307.70 1180.67,1312.63 1182.80,1317.63 1184.93,1322.71 1187.07,1327.85 1189.20,1333.08 1191.33,1338.37 1193.46,1343.72 1195.60,1349.15 1197.73,1354.64 1199.86,1360.19 1201.99,1365.80 1204.13,1371.48 1206.26,1377.21 1208.39,1383.00 1210.53,1388.84 1212.66,1394.73 1214.79,1400.68 1216.92,1406.67 1219.06,1412.71 1221.19,1418.80 1223.32,1424.93 1225.45,1431.11 1227.59,1437.32 1229.72,1443.58 1231.85,1449.87 1233.98,1456.19 1236.12,1462.55 1238.25,1468.94 1240.38,1475.36 1242.52,1481.81 1244.65,1488.29 1246.78,1494.79 1248.91,1501.31 1251.05,1507.86 1253.18,1514.42 1255.31,1521.01 1257.44,1527.61 1259.58,1534.22 1261.71,1540.85 1263.84,1547.49 1265.97,1554.13 1268.11,1560.79 1270.24,1567.45 1272.37,1574.12 1274.51,1580.79 1276.64,1587.47 1278.77,1594.14 1280.90,1600.81 1283.04,1607.48 1285.17,1614.15 1287.30,1620.80 1289.43,1627.46 1291.57,1634.10 1293.70,1640.73 1295.83,1647.35 1297.96,1653.96 1300.10,1660.56 1302.23,1667.14 1304.36,1673.70 1306.50,1680.24 1308.63,1686.76 1310.76,1693.27 1312.89,1699.75 1315.03,1706.21 1317.16,1712.64 1319.29,1719.05 1321.42,1725.43 1323.56,1731.78 1325.69,1738.11 1327.82,1744.40 1329.95,1750.67 1332.09,1756.90 1334.22,1763.10 1336.35,1769.26 1338.49,1775.39 1340.62,1781.49 1342.75,1787.54 1344.88,1793.56 1347.02,1799.55 1349.15,1805.49 1351.28,1811.39 1353.41,1817.25 1355.55,1823.07 1357.68,1828.85 1359.81,1834.58 1361.94,1840.27 1364.08,1845.92 1366.21,1851.52 1368.34,1857.08 1370.48,1862.59 1372.61,1868.05 1374.74,1873.47 1376.87,1878.84 1379.01,1884.16 1381.14,1889.43 1383.27,1894.65 1385.40,1899.83 1387.54,1904.95 1389.67,1910.02 1391.80,1915.05 1393.93,1920.02 1396.07,1924.94 1398.20,1929.81" stroke="#7E2F8E" stroke-width="2.9" fill="none" stroke-linejoin="round"/>
<polyline points="118.60,2210.10 120.73,2210.10 122.87,2210.10 125.00,2210.10 127.13,2210.10 129.26,2210.10 131.40,2210.10 133.53,2210.10 135.66,2210.10 137.79,2210.10 139.93,2210.10 142.06,2210.10 144.19,2210.10 146.32,2210.10 148.46,2210.10 150.59,2210.10 152.72,2210.10 154.86,2210.10 156.99,2210.10 159.12,2210.10 161.25,2210.10 163.39,2210.10 165.52,2210.10 167.65,2210.10 169.78,2210.10 171.92,2210.10 174.05,2210.10 176.18,2210.10 178.31,2210.10 180.45,2210.10 182.58,2210.10 184.71,2210.10 186.85,2210.10 188.98,2210.10 191.11,2210.10 193.24,2210.10 195.38,2210.10 197.51,2210.10 199.64,2210.10 201.77,2210.10 203.91,2210.10 206.04,2210.10 208.17,2210.10 210.30,2210.10 212.44,2210.10 214.57,2210.10 216.70,2210.10 218.84,2210.10 220.97,2210.10 223.10,2210.10 225.23,2210.10 227.37,2210.10 229.50,2210.10 231.63,2210.10 233.76,2210.10 235.90,2210.10 238.03,2210.10 240.16,2210.10 242.29,2210.10 244.43,2210.10 246.56,2210.10 248.69,2210.10 250.83,2210.10 252.96,2210.10 255.09,2210.10 257.22,2210.10 259.36,2210.10 261.49,2210.10 263.62,2210.10 265.75,2210.10 267.89,2210.10 270.02,2210.10 272.15,2210.10 274.28,2210.10 276.42,2210.10 278.55,2210.10 280.68,2210.10 282.82,2210.10 284.95,2210.10 287.08,2210.10 289.21,2210.10 291.35,2210.10 293.48,2210.10 295.61,2210.10 297.74,2210.10 299.88,2210.10 302.01,2210.10 304.14,2210.10 306.27,2210.10 308.41,2210.10 310.54,2210.10 312.67,2210.10 314.81,2210.10 316.94,2210.10 319.07,2210.10 321.20,2210.10 323.34,2210.10 325.47,2210.10 327.60,2210.10 329.73,2210.10 331.87,2210.10 334.00,2210.10 336.13,2210.10 338.26,2210.10 340.40,2210.10 342.53,2210.10 344.66,2210.10 346.80,2210.10 348.93,2210.10 351.06,2210.10 353.19,2210.10 355.33,2210.10 357.46,2210.10 359.59,2210.10 361.72,2210.10 363.86,2210.10 365.99,2210.10 368.12,2210.10 370.25,2210.10 372.39,2210.10 374.52,2210.10 376.65,2210.10 378.79,2210.10 380.92,2210.10 383.05,2210.10 385.18,2210.10 387.32,2210.10 389.45,2210.10 391.58,2210.10 393.71,2210.10 395.85,2210.10 397.98,2210.10 400.11,2210.10 402.24,2210.10 404.38,2210.10 406.51,2210.10 408.64,2210.10 410.78,2210.10 412.91,2210.10 415.04,2210.10 417.17,2210.09 419.31,2210.09 421.44,2210.09 423.57,2210.09 425.70,2210.09 427.84,2210.09 429.97,2210.09 432.10,2210.09 434.23,2210.09 436.37,2210.09 438.50,2210.09 440.63,2210.09 442.77,2210.09 444.90,2210.09 447.03,2210.09 449.16,2210.09 451.30,2210.09 453.43,2210.09 455.56,2210.09 457.69,2210.09 459.83,2210.09 461.96,2210.08 464.09,2210.08 466.22,2210.08 468.36,2210.08 470.49,2210.08 472.62,2210.08 474.76,2210.08 476.89,2210.08 479.02,2210.08 481.15,2210.08 483.29,2210.07 485.42,2210.07 487.55,2210.07 489.68,2210.07 491.82,2210.07 493.95,2210.07 496.08,2210.07 498.21,2210.06 500.35,2210.06 502.48,2210.06 504.61,2210.06 506.75,2210.06 508.88,2210.05 511.01,2210.05 513.14,2210.05 515.28,2210.05 517.41,2210.04 519.54,2210.04 521.67,2210.04 523.81,2210.04 525.94,2210.03 528.07,2210.03 530.20,2210.03 532.34,2210.02 534.47,2210.02 536.60,2210.02 538.74,2210.01 540.87,2210.01 543.00,2210.00 545.13,2210.00 547.27,2209.99 549.40,2209.99 551.53,2209.98 553.66,2209.98 555.80,2209.97 557.93,2209.97 560.06,2209.96 562.19,2209.95 564.33,2209.95 566.46,2209.94 568.59,2209.93 570.73,2209.92 572.86,2209.92 574.99,2209.91 577.12,2209.90 579.26,2209.89 581.39,2209.88 583.52,2209.87 585.65,2209.86 587.79,2209.85 589.92,2209.84 592.05,2209.83 594.18,2209.82 596.32,2209.80 598.45,2209.79 600.58,2209.78 602.72,2209.76 604.85,2209.75 606.98,2209.73 609.11,2209.72 611.25,2209.70 613.38,2209.68 615.51,2209.66 617.64,2209.64 619.78,2209.63 621.91,2209.60 624.04,2209.58 626.17,2209.56 628.31,2209.54 630.44,2209.51 632.57,2209.49 634.71,2209.46 636.84,2209.44 638.97,2209.41 641.10,2209.38 643.24,2209.35 645.37,2209.32 647.50,2209.29 649.63,2209.25 651.77,2209.22 653.90,2209.18 656.03,2209.15 658.16,2209.11 660.30,2209.07 662.43,2209.02 664.56,2208.98 666.70,2208.93 668.83,2208.89 670.96,2208.84 673.09,2208.79 675.23,2208.74 677.36,2208.68 679.49,2208.63 681.62,2208.57 683.76,2208.51 685.89,2208.44 688.02,2208.38 690.15,2208.31 692.29,2208.24 694.42,2208.17 696.55,2208.10 698.69,2208.02 700.82,2207.94 702.95,2207.86 705.08,2207.77 707.22,2207.68 709.35,2207.59 711.48,2207.49 713.61,2207.40 715.75,2207.29 717.88,2207.19 720.01,2207.08 722.14,2206.97 724.28,2206.85 726.41,2206.73 728.54,2206.61 730.68,2206.48 732.81,2206.35 734.94,2206.21 737.07,2206.07 739.21,2205.92 741.34,2205.77 743.47,2205.61 745.60,2205.45 747.74,2205.28 749.87,2205.11 752.00,2204.93 754.13,2204.75 756.27,2204.56 758.40,2204.37 760.53,2204.17 762.67,2203.96 764.80,2203.74 766.93,2203.52 769.06,2203.30 771.20,2203.06 773.33,2202.82 775.46,2202.57 777.59,2202.31 779.73,2202.05 781.86,2201.77 783.99,2201.49 786.12,2201.20 788.26,2200.90 790.39,2200.59 792.52,2200.28 794.66,2199.95 796.79,2199.62 798.92,2199.27 801.05,2198.91 803.19,2198.55 805.32,2198.17 807.45,2197.78 809.58,2197.39 811.72,2196.97 813.85,2196.55 815.98,2196.12 818.11,2195.67 820.25,2195.21 822.38,2194.74 824.51,2194.26 826.65,2193.76 828.78,2193.25 830.91,2192.72 833.04,2192.18 835.18,2191.63 837.31,2191.06 839.44,2190.48 841.57,2189.87 843.71,2189.26 845.84,2188.63 847.97,2187.98 850.10,2187.31 852.24,2186.63 854.37,2185.92 856.50,2185.20 858.64,2184.47 860.77,2183.71 862.90,2182.93 865.03,2182.14 867.17,2181.32 869.30,2180.49 871.43,2179.63 873.56,2178.75 875.70,2177.85 877.83,2176.93 879.96,2175.99 882.09,2175.02 884.23,2174.03 886.36,2173.02 888.49,2171.98 890.63,2170.92 892.76,2169.83 894.89,2168.72 897.02,2167.58 899.16,2166.41 901.29,2165.22 903.42,2164.00 905.55,2162.75 907.69,2161.48 909.82,2160.18 911.95,2158.84 914.08,2157.48 916.22,2156.09 918.35,2154.67 920.48,2153.22 922.62,2151.73 924.75,2150.22 926.88,2148.67 929.01,2147.09 931.15,2145.47 933.28,2143.82 935.41,2142.14 937.54,2140.43 939.68,2138.67 941.81,2136.89 943.94,2135.06 946.07,2133.20 948.21,2131.30 950.34,2129.37 952.47,2127.40 954.61,2125.38 956.74,2123.33 958.87,2121.24 961.00,2119.11 963.14,2116.94 965.27,2114.73 967.40,2112.48 969.53,2110.19 971.67,2107.85 973.80,2105.48 975.93,2103.05 978.06,2100.59 980.20,2098.08 982.33,2095.53 984.46,2092.93 986.60,2090.29 988.73,2087.60 990.86,2084.87 992.99,2082.09 995.13,2079.26 997.26,2076.39 999.39,2073.47 1001.52,2070.50 1003.66,2067.48 1005.79,2064.42 1007.92,2061.30 1010.05,2058.14 1012.19,2054.93 1014.32,2051.67 1016.45,2048.36 1018.59,2044.99 1020.72,2041.58 1022.85,2038.12 1024.98,2034.60 1027.12,2031.04 1029.25,2027.42 1031.38,2023.76 1033.51,2020.04 1035.65,2016.26 1037.78,2012.44 1039.91,2008.56 1042.04,2004.64 1044.18,2000.66 1046.31,1996.62 1048.44,1992.54 1050.58,1988.40 1052.71,1984.21 1054.84,1979.96 1056.97,1975.67 1059.11,1971.32 1061.24,1966.92 1063.37,1962.46 1065.50,1957.95 1067.64,1953.39 1069.77,1948.78 1071.90,1944.12 1074.03,1939.40 1076.17,1934.63 1078.30,1929.81 1080.43,1924.94 1082.57,1920.02 1084.70,1915.05 1086.83,1910.02 1088.96,1904.95 1091.10,1899.83 1093.23,1894.65 1095.36,1889.43 1097.49,1884.16 1099.63,1878.84 1101.76,1873.47 1103.89,1868.05 1106.02,1862.59 1108.16,1857.08 1110.29,1851.52 1112.42,1845.92 1114.56,1840.27 1116.69,1834.58 1118.82,1828.85 1120.95,1823.07 1123.09,1817.25 1125.22,1811.39 1127.35,1805.49 1129.48,1799.55 1131.62,1793.56 1133.75,1787.54 1135.88,1781.49 1138.01,1775.39 1140.15,1769.26 1142.28,1763.10 1144.41,1756.90 1146.55,1750.67 1148.68,1744.40 1150.81,1738.11 1152.94,1731.78 1155.08,1725.43 1157.21,1719.05 1159.34,1712.64 1161.47,1706.21 1163.61,1699.75 1165.74,1693.27 1167.87,1686.76 1170.00,1680.24 1172.14,1673.70 1174.27,1667.14 1176.40,1660.56 1178.54,1653.96 1180.67,1647.35 1182.80,1640.73 1184.93,1634.10 1187.07,1627.46 1189.20,1620.80 1191.33,1614.15 1193.46,1607.48 1195.60,1600.81 1197.73,1594.14 1199.86,1587.47 1201.99,1580.79 1204.13,1574.12 1206.26,1567.45 1208.39,1560.79 1210.53,1554.13 1212.66,1547.49 1214.79,1540.85 1216.92,1534.22 1219.06,1527.61 1221.19,1521.01 1223.32,1514.42 1225.45,1507.86 1227.59,1501.31 1229.72,1494.79 1231.85,1488.29 1233.98,1481.81 1236.12,1475.36 1238.25,1468.94 1240.38,1462.55 1242.52,1456.19 1244.65,1449.87 1246.78,1443.58 1248.91,1437.32 1251.05,1431.11 1253.18,1424.93 1255.31,1418.80 1257.44,1412.71 1259.58,1406.67 1261.71,1400.68 1263.84,1394.73 1265.97,1388.84 1268.11,1383.00 1270.24,1377.21 1272.37,1371.48 1274.51,1365.80 1276.64,1360.19 1278.77,1354.64 1280.90,1349.15 1283.04,1343.72 1285.17,1338.37 1287.30,1333.08 1289.43,1327.85 1291.57,1322.71 1293.70,1317.63 1295.83,1312.63 1297.96,1307.70 1300.10,1302.85 1302.23,1298.08 1304.36,1293.39 1306.50,1288.78 1308.63,1284.26 1310.76,1279.82 1312.89,1275.47 1315.03,1271.20 1317.16,1267.03 1319.29,1262.94 1321.42,1258.95 1323.56,1255.05 1325.69,1251.25 1327.82,1247.54 1329.95,1243.93 1332.09,1240.41 1334.22,1237.00 1336.35,1233.68 1338.49,1230.47 1340.62,1227.36 1342.75,1224.36 1344.88,1221.46 1347.02,1218.66 1349.15,1215.97 1351.28,1213.39 1353.41,1210.92 1355.55,1208.55 1357.68,1206.30 1359.81,1204.16 1361.94,1202.13 1364.08,1200.21 1366.21,1198.40 1368.34,1196.71 1370.48,1195.13 1372.61,1193.67 1374.74,1192.32 1376.87,1191.09 1379.01,1189.97 1381.14,1188.97 1383.27,1188.09 1385.40,1187.32 1387.54,1186.68 1389.67,1186.14 1391.80,1185.73 1393.93,1185.44 1396.07,1185.26 1398.20,1185.20" stroke="#77AC30" stroke-width="2.9" fill="none" stroke-linejoin="round"/>
<g font-size="32.7" class="t"><text transform="translate(118.60 2252.5) scale(1 1.07)" text-anchor="middle">-10</text><text transform="translate(246.56 2252.5) scale(1 1.07)" text-anchor="middle">-8</text><text transform="translate(374.52 2252.5) scale(1 1.07)" text-anchor="middle">-6</text><text transform="translate(502.48 2252.5) scale(1 1.07)" text-anchor="middle">-4</text><text transform="translate(630.44 2252.5) scale(1 1.07)" text-anchor="middle">-2</text><text transform="translate(758.40 2252.5) scale(1 1.07)" text-anchor="middle">0</text><text transform="translate(886.36 2252.5) scale(1 1.07)" text-anchor="middle">2</text><text transform="translate(1014.32 2252.5) scale(1 1.07)" text-anchor="middle">4</text><text transform="translate(1142.28 2252.5) scale(1 1.07)" text-anchor="middle">6</text><text transform="translate(1270.24 2252.5) scale(1 1.07)" text-anchor="middle">8</text><text transform="translate(1398.20 2252.5) scale(1 1.07)" text-anchor="middle">10</text><text transform="translate(107.6 2222.53) scale(1 1.07)" text-anchor="end">0</text><text transform="translate(107.6 2120.12) scale(1 1.07)" text-anchor="end">0.1</text><text transform="translate(107.6 2017.71) scale(1 1.07)" text-anchor="end">0.2</text><text transform="translate(107.6 1915.30) scale(1 1.07)" text-anchor="end">0.3</text><text transform="translate(107.6 1812.89) scale(1 1.07)" text-anchor="end">0.4</text><text transform="translate(107.6 1710.48) scale(1 1.07)" text-anchor="end">0.5</text><text transform="translate(107.6 1608.07) scale(1 1.07)" text-anchor="end">0.6</text><text transform="translate(107.6 1505.66) scale(1 1.07)" text-anchor="end">0.7</text><text transform="translate(107.6 1403.25) scale(1 1.07)" text-anchor="end">0.8</text><text transform="translate(107.6 1300.84) scale(1 1.07)" text-anchor="end">0.9</text><text transform="translate(107.6 1198.43) scale(1 1.07)" text-anchor="end">1</text></g>
<text class="t" x="758.50" y="2294.2" text-anchor="middle" font-size="35.9">Input (Ki)</text>
<text class="t" transform="translate(29.0 1698.00) rotate(-90)" x="0" y="0" text-anchor="middle" font-size="35.9">Degree of membership function (Ki)</text>
</g></svg></body></html>
